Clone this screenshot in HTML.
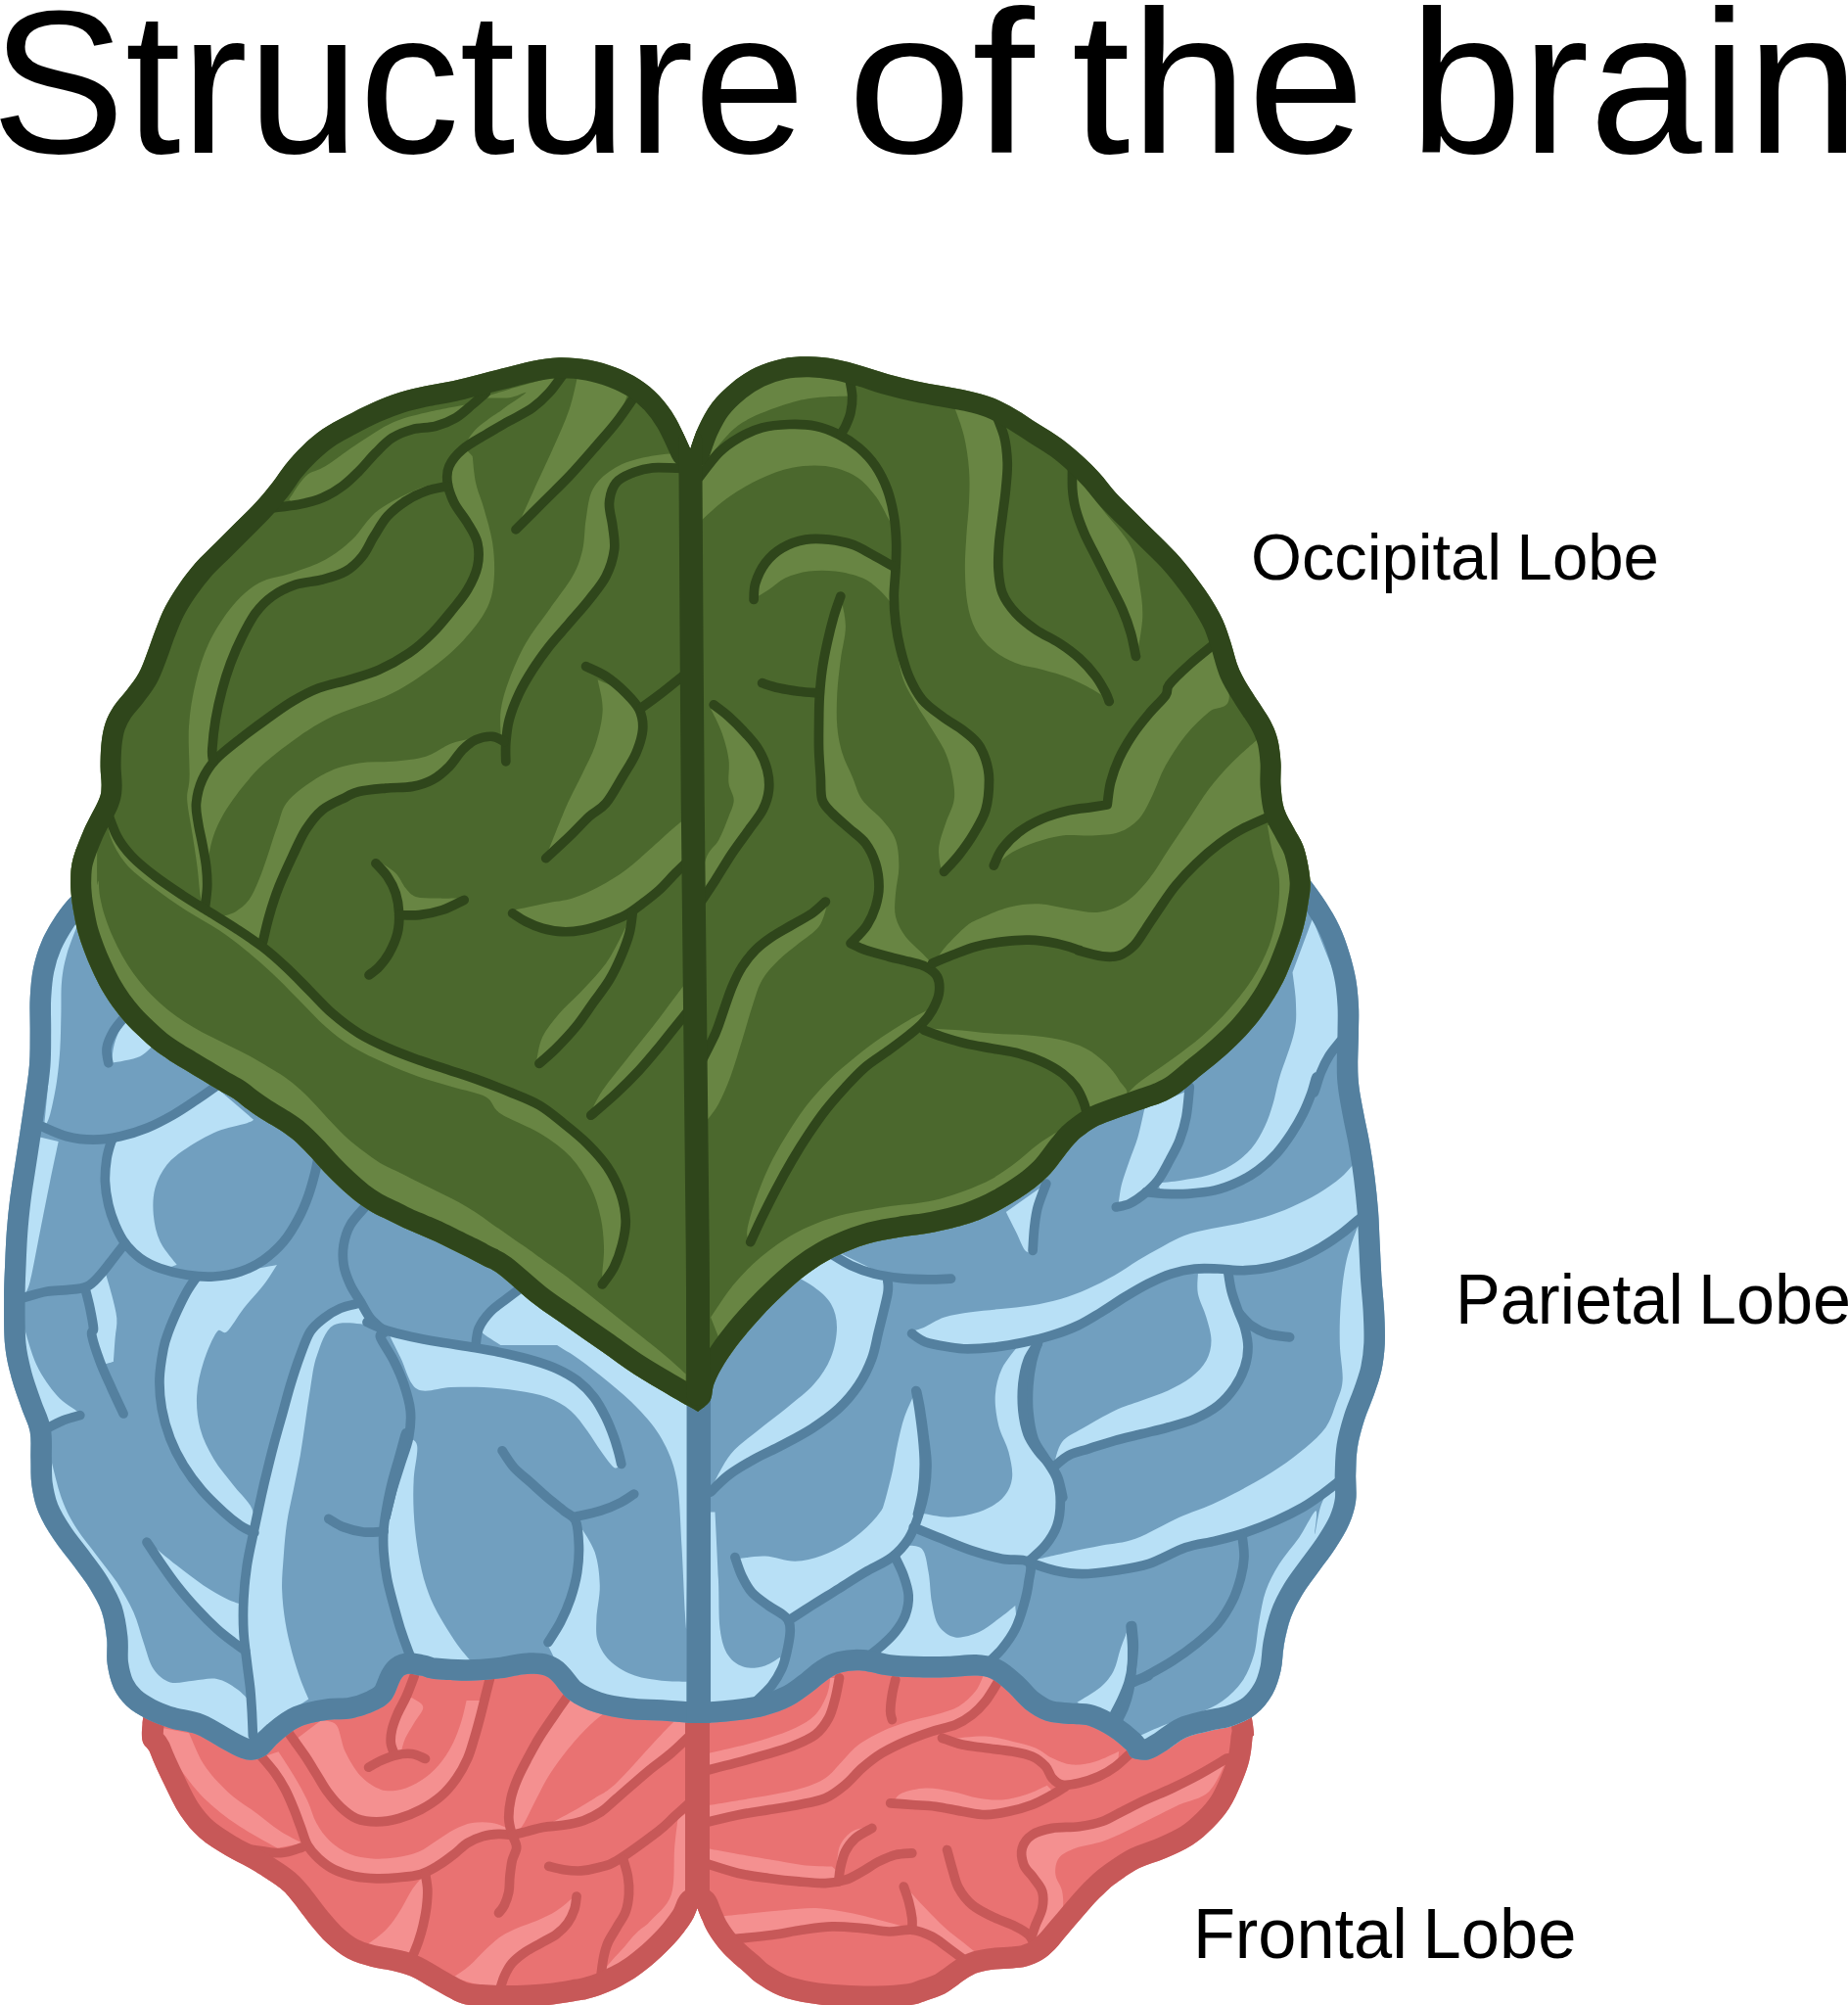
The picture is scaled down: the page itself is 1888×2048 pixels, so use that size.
<!DOCTYPE html>
<html><head><meta charset="utf-8"><title>Structure of the brain</title>
<style>
html,body{margin:0;padding:0;background:#fff;}
body{width:1888px;height:2048px;overflow:hidden;position:relative;font-family:"Liberation Sans",sans-serif;}
svg{position:absolute;left:0;top:0;display:block;}
text{font-family:"Liberation Sans",sans-serif;fill:#000;}
</style></head><body>
<svg width="1888" height="2048" viewBox="0 0 1888 2048">
<defs><path id="red" d="M170.0 1640.0C165.9 1660.3 148.2 1736.5 145.5 1761.7C142.8 1786.9 149.8 1780.6 153.6 1790.9C157.4 1801.2 163.1 1812.9 168.2 1823.4C173.3 1834.0 178.4 1845.3 184.4 1854.2C190.4 1863.1 196.3 1870.2 203.9 1877.0C211.5 1883.8 221.5 1889.7 229.9 1894.8C238.3 1899.9 246.3 1903.3 254.2 1907.8C262.1 1912.3 271.0 1918.0 277.0 1922.0C283.0 1926.0 286.3 1928.4 290.2 1932.1C294.1 1935.8 295.9 1938.4 300.5 1944.1C305.1 1949.8 311.8 1959.4 317.5 1966.2C323.2 1973.0 328.2 1979.3 334.5 1985.0C340.8 1990.7 347.6 1996.3 355.0 2000.3C362.4 2004.3 371.4 2006.7 378.9 2008.8C386.4 2010.9 393.2 2011.1 400.0 2012.7C406.8 2014.3 412.8 2015.6 419.5 2018.5C426.2 2021.4 433.9 2026.6 440.0 2030.0C446.1 2033.4 450.7 2036.2 456.0 2039.0C461.3 2041.8 466.3 2044.8 472.0 2046.5C477.7 2048.2 483.2 2048.4 490.0 2049.0C496.8 2049.6 504.7 2049.9 513.0 2050.0C521.3 2050.1 531.3 2049.9 540.0 2049.5C548.7 2049.1 556.7 2048.5 565.0 2047.5C573.3 2046.5 584.2 2044.5 590.0 2043.5C595.8 2042.5 595.5 2043.0 600.0 2041.8C604.5 2040.6 611.5 2038.4 617.3 2036.2C623.1 2034.0 628.8 2031.4 634.6 2028.4C640.4 2025.4 646.1 2022.0 651.9 2018.0C657.7 2014.0 664.2 2008.5 669.3 2004.2C674.4 1999.9 678.3 1996.0 682.3 1992.0C686.3 1988.0 690.2 1983.8 693.5 1979.9C696.8 1976.0 699.8 1972.0 702.2 1968.7C704.6 1965.4 706.1 1963.3 707.8 1960.0C709.5 1956.7 711.7 1950.8 712.5 1949.0C713.2 1950.8 715.2 1956.0 716.9 1960.0C718.6 1964.0 720.4 1968.7 722.9 1973.0C725.4 1977.3 728.4 1981.8 731.6 1986.0C734.8 1990.2 738.5 1994.5 742.0 1998.1C745.5 2001.7 749.4 2004.9 752.4 2007.6C755.4 2010.2 756.6 2011.1 760.0 2014.0C763.4 2016.9 766.5 2020.9 772.5 2025.0C778.5 2029.1 787.3 2035.0 796.3 2038.5C805.3 2042.0 816.1 2044.3 826.6 2046.1C837.1 2047.9 847.6 2048.8 859.0 2049.5C870.4 2050.2 883.1 2050.8 895.0 2050.5C906.9 2050.2 921.7 2049.3 930.5 2048.0C939.3 2046.7 942.0 2044.8 947.8 2042.9C953.6 2041.0 960.0 2038.9 965.1 2036.4C970.2 2033.9 974.1 2030.4 978.1 2027.7C982.1 2025.0 985.3 2022.3 988.9 2020.1C992.5 2017.9 995.0 2016.1 999.7 2014.7C1004.4 2013.3 1011.3 2012.2 1017.1 2011.5C1022.9 2010.8 1029.0 2011.0 1034.4 2010.4C1039.8 2009.9 1044.5 2009.7 1049.5 2008.2C1054.5 2006.8 1060.0 2004.6 1064.7 2001.7C1069.4 1998.8 1073.4 1995.2 1077.7 1990.9C1082.0 1986.6 1086.3 1980.8 1090.6 1975.8C1094.9 1970.8 1099.3 1965.6 1103.6 1960.6C1107.9 1955.5 1112.3 1950.2 1116.6 1945.5C1120.9 1940.8 1125.7 1936.1 1129.6 1932.5C1133.5 1928.9 1134.3 1927.8 1140.0 1923.8C1145.7 1919.8 1155.1 1912.6 1163.6 1908.3C1172.1 1904.0 1181.8 1902.0 1190.9 1898.0C1200.0 1894.0 1210.2 1889.5 1218.2 1884.4C1226.2 1879.3 1232.3 1873.7 1238.6 1867.4C1244.8 1861.2 1250.9 1854.3 1255.7 1846.9C1260.5 1839.5 1264.2 1831.0 1267.6 1823.0C1271.0 1815.0 1274.1 1807.2 1276.1 1799.2C1278.1 1791.2 1278.9 1782.1 1279.5 1775.3C1280.1 1768.5 1282.8 1780.8 1279.5 1758.3C1276.2 1735.8 1263.2 1659.7 1260.0 1640.0L170.0 1640.0Z"/><clipPath id="c_red"><use href="#red"/></clipPath></defs>
<use href="#red" fill="#e97272"/>
<g fill="#f49090" clip-path="url(#c_red)"><path d="M494.8 1737.0C494.0 1740.0 491.9 1748.8 490.2 1755.2C488.5 1761.6 486.6 1768.8 484.5 1775.6C482.4 1782.4 480.7 1789.3 477.7 1796.1C474.7 1802.9 470.9 1810.1 466.4 1816.5C461.9 1822.9 456.6 1829.4 450.5 1834.7C444.4 1840.0 437.2 1844.6 430.0 1848.4C422.8 1852.2 414.9 1855.4 407.3 1857.5C399.7 1859.6 391.7 1860.9 384.5 1860.9C377.3 1860.9 370.2 1860.0 364.1 1857.5C358.1 1855.0 353.1 1850.6 348.2 1846.1C343.3 1841.5 338.7 1835.9 334.5 1830.2C330.3 1824.5 327.0 1818.1 323.2 1812.0C319.4 1805.9 315.6 1799.5 311.8 1793.8C308.0 1788.1 302.4 1780.6 300.5 1777.9L327.7 1757.5C330.4 1758.2 339.4 1756.7 343.6 1762.0C347.8 1767.3 348.5 1780.6 352.7 1789.3C356.9 1798.0 362.5 1807.9 368.6 1814.3C374.7 1820.7 382.3 1825.6 389.1 1827.9C395.9 1830.2 402.7 1829.4 409.5 1827.9C416.3 1826.4 423.6 1823.0 430.0 1818.8C436.4 1814.6 442.9 1809.0 448.2 1802.9C453.5 1796.9 458.0 1789.7 461.8 1782.5C465.6 1775.3 468.4 1767.3 470.9 1759.7C473.4 1752.1 475.7 1740.8 476.6 1737.0L494.8 1737.0Z"/><path d="M267.5 1795.0C269.6 1797.5 276.0 1804.2 280.0 1809.7C284.0 1815.2 288.0 1821.5 291.4 1827.9C294.8 1834.4 297.9 1842.0 300.5 1848.4C303.1 1854.8 305.0 1860.5 307.3 1866.5C309.6 1872.5 311.1 1879.4 314.1 1884.7C317.1 1890.0 320.9 1894.2 325.5 1898.4C330.1 1902.6 335.3 1906.7 341.4 1909.7C347.4 1912.7 354.6 1915.0 361.8 1916.5C369.0 1918.0 376.9 1918.6 384.5 1918.8C392.1 1919.0 399.7 1918.5 407.3 1917.7C414.9 1917.0 423.2 1916.4 430.0 1914.3C436.8 1912.2 442.5 1908.6 448.2 1905.2C453.9 1901.8 459.2 1897.6 464.1 1893.8C469.0 1890.0 472.8 1885.5 477.7 1882.5C482.6 1879.5 488.3 1877.1 493.6 1875.6C498.9 1874.1 504.8 1873.7 509.5 1873.4C514.2 1873.1 519.9 1873.9 522.0 1874.0C521.4 1873.0 521.8 1869.7 518.6 1867.7C515.4 1865.7 508.8 1863.0 502.7 1862.0C496.6 1861.0 488.7 1860.9 482.3 1862.0C475.9 1863.1 470.2 1865.8 464.1 1868.8C458.0 1871.8 452.0 1876.4 445.9 1880.2C439.8 1884.0 434.5 1888.7 427.7 1891.5C420.9 1894.3 412.9 1896.0 405.0 1897.2C397.1 1898.4 387.9 1899.0 380.0 1898.4C372.1 1897.8 364.5 1896.8 357.3 1893.8C350.1 1890.8 342.5 1885.5 336.8 1880.2C331.1 1874.9 327.0 1868.8 323.2 1862.0C319.4 1855.2 317.9 1847.2 314.1 1839.3C310.3 1831.3 305.4 1822.6 300.5 1814.3C295.6 1806.0 287.2 1793.5 284.5 1789.3L267.5 1795.0Z"/><path d="M165.8 1765.1L193.1 1770.2C195.7 1775.6 201.9 1792.6 208.4 1802.6C214.9 1812.5 223.8 1822.0 232.3 1829.9C240.8 1837.9 250.4 1843.5 259.5 1850.3C268.6 1857.1 278.6 1865.4 286.8 1870.8C295.1 1876.2 305.3 1880.7 309.0 1882.7L283.4 1887.8C276.6 1883.8 255.0 1872.5 242.5 1864.0C230.0 1855.5 218.6 1846.9 208.4 1836.7C198.2 1826.5 188.5 1813.4 181.1 1802.6C173.7 1791.8 166.6 1778.2 164.1 1771.9C161.6 1765.7 165.5 1766.2 165.8 1765.1Z"/><path d="M431.1 1917.7C429.4 1919.8 424.3 1925.1 420.9 1930.2C417.5 1935.3 414.3 1942.5 410.7 1948.4C407.1 1954.3 403.1 1960.7 399.3 1965.4C395.5 1970.1 392.0 1973.4 388.0 1976.8C384.0 1980.2 377.6 1984.4 375.5 1985.9L416.4 1993.8C417.5 1993.8 421.3 1995.7 423.2 1993.8C425.1 1991.9 426.2 1987.0 427.7 1982.5C429.2 1978.0 431.0 1972.2 432.3 1966.5C433.6 1960.8 434.9 1954.5 435.7 1948.4C436.4 1942.4 437.6 1935.3 436.8 1930.2C436.0 1925.1 432.1 1919.8 431.1 1917.7Z"/><path d="M527.7 1873.4C529.2 1871.1 533.4 1865.8 536.8 1859.7C540.2 1853.6 544.0 1845.0 548.2 1837.0C552.4 1829.0 556.5 1820.3 561.8 1812.0C567.1 1803.7 573.9 1794.6 580.0 1787.0C586.1 1779.4 592.1 1772.6 598.2 1766.5C604.3 1760.4 610.7 1755.1 616.4 1750.6C622.1 1746.1 629.6 1741.2 632.3 1739.3L580.0 1732.5C577.4 1736.3 569.0 1748.0 564.1 1755.2C559.2 1762.4 554.7 1768.8 550.5 1775.6C546.3 1782.4 542.7 1789.3 539.1 1796.1C535.5 1802.9 531.8 1809.7 528.9 1816.5C526.0 1823.3 523.5 1830.2 522.0 1837.0C520.5 1843.8 518.8 1851.4 519.8 1857.5C520.8 1863.6 526.4 1870.8 527.7 1873.4Z"/><path d="M564.1 1861.5C567.5 1859.7 577.3 1854.7 584.5 1850.6C591.7 1846.5 599.7 1841.9 607.3 1837.0C614.9 1832.1 618.6 1831.9 630.0 1821.1C641.4 1810.2 662.2 1785.8 675.5 1771.9C688.8 1758.0 703.8 1743.5 709.5 1737.8L709.5 1768.5C705.5 1772.2 693.7 1783.9 685.7 1790.7C677.8 1797.5 671.1 1801.7 661.8 1809.4C652.5 1817.1 638.0 1830.1 630.0 1837.0C622.0 1843.9 619.8 1846.8 614.1 1850.6C608.4 1854.4 602.3 1857.4 595.9 1859.7C589.5 1862.0 580.8 1864.0 575.5 1864.3C570.2 1864.6 566.0 1862.0 564.1 1861.5Z"/><path d="M585.7 1938.1C582.9 1940.4 574.9 1947.8 568.6 1951.8C562.4 1955.8 554.6 1959.2 548.2 1962.0C541.8 1964.8 536.1 1966.1 530.0 1968.8C523.9 1971.5 517.5 1974.1 511.8 1977.9C506.1 1981.7 501.2 1986.6 495.9 1991.5C490.6 1996.4 485.5 2002.8 480.0 2007.5C474.5 2012.2 465.8 2017.9 463.0 2020.0L506.1 2032.5C507.6 2030.2 512.4 2023.3 515.2 2018.8C518.1 2014.2 519.6 2009.4 523.2 2005.2C526.8 2001.0 531.9 1997.2 536.8 1993.8C541.7 1990.4 547.4 1987.7 552.7 1984.7C558.0 1981.7 564.1 1979.0 568.6 1975.6C573.1 1972.2 577.0 1968.5 580.0 1964.3C583.0 1960.1 585.8 1955.0 586.8 1950.6C587.8 1946.2 585.9 1940.2 585.7 1938.1Z"/><path d="M422.0 1734.7C423.7 1736.2 432.1 1739.6 432.3 1743.8C432.5 1748.0 426.2 1754.4 423.2 1759.7C420.2 1765.0 416.4 1770.5 414.1 1775.6C411.8 1780.7 410.3 1787.9 409.5 1790.4C408.4 1790.5 404.4 1792.8 402.7 1791.1C401.0 1789.4 399.7 1784.3 399.3 1780.2C398.9 1776.1 399.4 1771.4 400.5 1766.5C401.6 1761.6 403.7 1756.3 406.1 1750.6C408.6 1744.9 413.7 1735.5 415.2 1732.5L422.0 1734.7Z"/><path d="M617.0 2012.0C618.5 2010.3 622.8 2005.2 626.0 2001.6C629.2 1998.0 633.2 1993.9 636.4 1990.3C639.6 1986.7 642.1 1983.1 645.0 1979.9C647.9 1976.7 650.5 1974.2 653.7 1971.3C656.9 1968.4 658.8 1968.5 664.1 1962.6C669.4 1956.6 681.5 1948.1 685.7 1935.6C689.9 1923.1 688.0 1900.9 689.1 1887.8C690.2 1874.7 692.0 1862.3 692.6 1857.2L705.0 1850.0L705.0 1930.0C702.8 1936.7 696.2 1960.7 692.0 1970.0C687.8 1979.3 684.3 1981.3 680.0 1986.0C675.7 1990.7 671.3 1994.0 666.0 1998.0C660.7 2002.0 654.8 2006.3 648.0 2010.0C641.2 2013.7 628.8 2018.3 625.0 2020.0L617.0 2012.0Z"/><path d="M720.5 1791.7C726.2 1790.4 743.7 1786.5 754.5 1783.8C765.3 1781.1 775.5 1778.4 785.2 1775.3C794.9 1772.2 804.5 1769.1 812.5 1765.1C820.5 1761.1 827.6 1757.2 833.0 1751.5C838.4 1745.8 842.4 1737.2 844.9 1731.0C847.4 1724.8 847.7 1716.8 848.3 1714.0L857.5 1714.0C856.8 1717.4 855.2 1727.6 853.4 1734.4C851.6 1741.2 850.0 1748.7 846.6 1754.9C843.2 1761.2 839.2 1767.1 833.0 1771.9C826.8 1776.7 817.6 1780.4 809.1 1783.8C800.6 1787.2 791.5 1789.6 781.8 1792.4C772.1 1795.2 761.3 1798.2 751.1 1800.9C740.9 1803.6 725.6 1807.4 720.5 1808.7L720.5 1791.7Z"/><path d="M720.5 1844.5C726.8 1843.5 746.6 1840.3 758.0 1838.4C769.4 1836.5 778.4 1835.3 788.6 1833.3C798.8 1831.3 810.2 1829.3 819.3 1826.5C828.4 1823.7 836.4 1820.8 843.2 1816.2C850.0 1811.7 854.5 1804.9 860.2 1799.2C865.9 1793.5 870.5 1787.2 877.3 1782.1C884.1 1777.0 892.6 1772.5 901.1 1768.5C909.6 1764.5 919.3 1761.1 928.4 1758.3C937.5 1755.5 947.2 1754.1 955.7 1751.5C964.2 1748.9 972.7 1746.9 979.5 1742.9C986.3 1738.9 992.3 1733.0 996.6 1727.6C1000.9 1722.2 1003.7 1713.3 1005.1 1710.5L1018.8 1719.1C1016.8 1722.2 1011.1 1732.4 1006.8 1737.8C1002.5 1743.2 998.3 1747.5 993.2 1751.5C988.1 1755.5 982.9 1758.9 976.1 1761.7C969.3 1764.5 960.8 1765.7 952.3 1768.5C943.8 1771.3 933.5 1775.0 925.0 1778.7C916.5 1782.4 908.5 1786.2 901.1 1790.7C893.7 1795.2 887.0 1800.6 880.7 1806.0C874.5 1811.4 869.9 1817.9 863.6 1823.0C857.4 1828.1 851.2 1833.3 843.2 1836.7C835.2 1840.1 825.6 1841.5 815.9 1843.5C806.2 1845.5 795.4 1846.9 785.2 1848.6C775.0 1850.3 765.3 1851.5 754.5 1853.7C743.7 1855.9 726.2 1860.3 720.5 1861.6L720.5 1844.5Z"/><path d="M972.7 1776.0C978.4 1775.6 996.6 1773.1 1006.8 1773.6C1017.0 1774.0 1025.6 1776.7 1034.1 1778.7C1042.6 1780.7 1051.2 1782.7 1058.0 1785.5C1064.8 1788.3 1068.8 1793.0 1075.0 1795.8C1081.2 1798.6 1088.1 1802.0 1095.5 1802.6C1102.9 1803.2 1111.3 1801.5 1119.3 1799.2C1127.2 1796.9 1139.2 1790.7 1143.2 1789.0C1142.6 1791.5 1143.2 1800.0 1139.8 1804.3C1136.4 1808.5 1129.0 1811.7 1122.7 1814.5C1116.5 1817.3 1108.5 1819.9 1102.3 1821.3C1096.0 1822.7 1089.8 1823.8 1085.2 1823.0C1080.7 1822.2 1077.8 1819.3 1075.0 1816.2C1072.2 1813.1 1071.6 1808.0 1068.2 1804.3C1064.8 1800.6 1060.2 1796.6 1054.5 1794.1C1048.8 1791.5 1042.0 1790.4 1034.1 1789.0C1026.1 1787.6 1015.3 1786.7 1006.8 1785.5C998.3 1784.3 988.7 1783.7 983.0 1782.1C977.3 1780.5 974.4 1777.0 972.7 1776.0Z"/><path d="M913.1 1840.1C914.5 1838.7 916.2 1833.9 921.6 1831.6C927.0 1829.3 937.0 1826.8 945.5 1826.5C954.0 1826.2 963.6 1828.2 972.7 1829.9C981.8 1831.6 991.5 1835.3 1000.0 1836.7C1008.5 1838.1 1015.9 1839.0 1023.9 1838.4C1031.8 1837.8 1040.0 1835.8 1047.7 1833.3C1055.4 1830.8 1066.2 1825.3 1069.9 1823.7C1070.8 1825.3 1077.6 1830.0 1075.0 1833.3C1072.4 1836.6 1061.9 1840.7 1054.5 1843.5C1047.1 1846.3 1038.7 1848.6 1030.7 1850.3C1022.8 1852.0 1014.8 1853.7 1006.8 1853.7C998.8 1853.7 991.5 1851.7 983.0 1850.3C974.5 1848.9 964.2 1846.3 955.7 1845.2C947.2 1844.1 938.9 1844.3 931.8 1843.5C924.7 1842.7 916.2 1840.7 913.1 1840.1Z"/><path d="M720.5 1887.8C726.8 1888.9 746.6 1892.6 758.0 1894.6C769.4 1896.6 778.4 1898.1 788.6 1899.8C798.8 1901.5 809.1 1903.8 819.3 1904.9C829.5 1906.0 844.9 1906.3 850.0 1906.6L863.6 1919.2C860.2 1919.9 851.2 1923.1 843.2 1923.6C835.2 1924.0 825.6 1922.8 815.9 1921.9C806.2 1921.1 795.4 1919.9 785.2 1918.5C775.0 1917.1 765.3 1916.0 754.5 1913.4C743.7 1910.9 726.2 1904.9 720.5 1903.2L720.5 1887.8Z"/><path d="M887.5 1865.7C884.7 1866.5 875.3 1867.7 870.5 1870.8C865.7 1873.9 861.1 1879.3 858.5 1884.4C855.9 1889.5 855.7 1898.7 855.1 1901.5C856.5 1899.8 860.5 1895.2 863.6 1891.2C866.7 1887.2 869.9 1881.8 873.9 1877.6C877.9 1873.3 885.2 1867.7 887.5 1865.7Z"/><path d="M926.7 1928.7C929.8 1932.1 939.0 1942.4 945.5 1949.2C952.0 1956.0 959.6 1963.9 965.9 1969.6C972.1 1975.3 977.3 1978.8 983.0 1983.3C988.7 1987.8 997.2 1994.6 1000.0 1996.9L989.8 2005.4C986.4 2002.9 975.5 1994.6 969.3 1990.1C963.0 1985.6 958.5 1981.3 952.3 1978.2C946.0 1975.1 935.2 1974.4 931.8 1971.3C928.4 1968.2 932.4 1964.2 931.8 1959.4C931.2 1954.6 929.2 1947.5 928.4 1942.4C927.5 1937.3 927.0 1931.0 926.7 1928.7Z"/><path d="M734.1 1957.7C739.8 1957.1 756.8 1955.4 768.2 1954.3C779.6 1953.2 790.9 1951.8 802.3 1950.9C813.7 1950.1 825.0 1948.6 836.4 1949.2C847.8 1949.8 859.1 1952.0 870.5 1954.3C881.9 1956.6 894.6 1960.2 904.5 1962.8C914.4 1965.3 925.8 1968.5 930.1 1969.6C926.4 1970.2 916.2 1973.0 908.0 1973.0C899.8 1973.0 890.4 1970.4 880.7 1969.6C871.0 1968.8 860.2 1967.6 850.0 1967.9C839.8 1968.2 829.5 1969.9 819.3 1971.3C809.1 1972.7 800.0 1975.0 788.6 1976.5C777.2 1978.0 757.4 1979.8 751.1 1980.5L734.1 1957.7Z"/><path d="M1254.0 1795.8C1250.9 1801.5 1243.5 1822.0 1235.2 1829.9C1227.0 1837.9 1214.2 1839.0 1204.5 1843.5C1194.8 1848.0 1186.4 1852.5 1177.3 1857.1C1168.2 1861.6 1158.5 1866.8 1150.0 1870.8C1141.5 1874.8 1134.6 1878.2 1126.1 1881.0C1117.6 1883.8 1106.3 1885.0 1098.9 1887.8C1091.5 1890.6 1085.2 1893.5 1081.8 1898.0C1078.4 1902.5 1077.8 1909.4 1078.4 1915.1C1079.0 1920.8 1084.1 1925.8 1085.2 1932.1C1086.3 1938.3 1086.9 1946.3 1085.2 1952.6C1083.5 1958.8 1078.7 1964.2 1075.0 1969.6C1071.3 1975.0 1065.1 1982.4 1063.1 1985.0C1061.7 1983.6 1055.3 1979.6 1054.5 1976.5C1053.7 1973.4 1056.3 1970.8 1058.0 1966.2C1059.7 1961.7 1063.7 1954.9 1064.8 1949.2C1065.9 1943.5 1066.2 1937.2 1064.8 1932.1C1063.4 1927.0 1059.3 1923.0 1056.2 1918.5C1053.1 1914.0 1048.0 1910.0 1046.0 1904.9C1044.0 1899.8 1042.9 1892.9 1044.3 1887.8C1045.7 1882.7 1049.4 1877.6 1054.5 1874.2C1059.6 1870.8 1067.0 1868.8 1075.0 1867.4C1083.0 1866.0 1093.8 1866.9 1102.3 1865.7C1110.8 1864.5 1118.7 1863.1 1126.1 1860.5C1133.5 1857.9 1139.2 1854.0 1146.6 1850.3C1154.0 1846.6 1162.0 1842.4 1170.5 1838.4C1179.0 1834.4 1188.6 1830.8 1197.7 1826.5C1206.8 1822.2 1215.6 1817.9 1225.0 1812.8C1234.4 1807.7 1249.2 1798.6 1254.0 1795.8Z"/></g>
<g fill="none" stroke="#c75858" stroke-width="9.7" stroke-linecap="round" stroke-linejoin="round" clip-path="url(#c_red)"><path d="M500.5 1714.3C499.7 1717.3 497.6 1725.7 495.9 1732.5C494.2 1739.3 492.1 1748.0 490.2 1755.2C488.3 1762.4 486.6 1768.8 484.5 1775.6C482.4 1782.4 480.7 1789.3 477.7 1796.1C474.7 1802.9 470.9 1810.1 466.4 1816.5C461.9 1822.9 456.6 1829.4 450.5 1834.7C444.4 1840.0 437.2 1844.6 430.0 1848.4C422.8 1852.2 414.9 1855.4 407.3 1857.5C399.7 1859.6 391.7 1860.9 384.5 1860.9C377.3 1860.9 370.2 1860.0 364.1 1857.5C358.1 1855.0 353.1 1850.6 348.2 1846.1C343.3 1841.5 338.7 1835.9 334.5 1830.2C330.3 1824.5 327.0 1818.1 323.2 1812.0C319.4 1805.9 315.6 1799.5 311.8 1793.8C308.0 1788.1 304.3 1783.2 300.5 1777.9C296.7 1772.6 291.0 1764.7 289.1 1762.0"/><path d="M261.8 1788.1C264.8 1791.7 275.1 1803.1 280.0 1809.7C284.9 1816.3 288.0 1821.5 291.4 1827.9C294.8 1834.4 297.9 1842.0 300.5 1848.4C303.1 1854.8 305.0 1860.5 307.3 1866.5C309.6 1872.5 311.1 1879.4 314.1 1884.7C317.1 1890.0 320.9 1894.2 325.5 1898.4C330.1 1902.6 335.3 1906.7 341.4 1909.7C347.4 1912.7 354.6 1915.0 361.8 1916.5C369.0 1918.0 376.9 1918.6 384.5 1918.8C392.1 1919.0 399.7 1918.5 407.3 1917.7C414.9 1917.0 423.2 1916.4 430.0 1914.3C436.8 1912.2 442.5 1908.6 448.2 1905.2C453.9 1901.8 459.2 1897.6 464.1 1893.8C469.0 1890.0 472.8 1885.5 477.7 1882.5C482.6 1879.5 488.3 1877.1 493.6 1875.6C498.9 1874.1 504.6 1873.6 509.5 1873.4C514.4 1873.2 520.9 1874.3 523.2 1874.5"/><path d="M257.3 1889.3C262.2 1889.9 278.3 1893.1 286.8 1892.7C295.3 1892.3 304.8 1888.0 308.4 1887.0"/><path d="M434.5 1914.3C434.9 1917.0 436.6 1924.5 436.8 1930.2C437.0 1935.9 436.4 1942.4 435.7 1948.4C434.9 1954.5 433.6 1960.8 432.3 1966.5C431.0 1972.2 429.4 1977.4 427.7 1982.5C426.0 1987.6 422.9 1994.8 422.0 1997.2"/><path d="M523.2 1874.5C522.6 1871.7 520.0 1863.8 519.8 1857.5C519.6 1851.2 520.5 1843.8 522.0 1837.0C523.5 1830.2 526.0 1823.3 528.9 1816.5C531.8 1809.7 535.5 1802.9 539.1 1796.1C542.7 1789.3 546.3 1782.4 550.5 1775.6C554.7 1768.8 559.2 1762.4 564.1 1755.2C569.0 1748.0 575.1 1739.3 580.0 1732.5C584.9 1725.7 591.3 1717.3 593.6 1714.3"/><path d="M523.2 1874.5C525.5 1873.9 531.5 1872.4 536.8 1871.1C542.1 1869.8 548.5 1867.6 555.0 1866.5C561.5 1865.4 568.7 1865.4 575.5 1864.3C582.3 1863.2 589.5 1862.0 595.9 1859.7C602.3 1857.4 608.4 1854.4 614.1 1850.6C619.8 1846.8 622.0 1843.9 630.0 1837.0C638.0 1830.1 652.5 1817.1 661.8 1809.4C671.1 1801.7 677.8 1797.5 685.7 1790.7C693.7 1783.9 705.5 1772.2 709.5 1768.5"/><path d="M523.2 1874.5C524.0 1876.6 527.7 1882.7 527.7 1887.0C527.7 1891.3 524.3 1895.7 523.2 1900.6C522.1 1905.5 521.5 1911.2 520.9 1916.5C520.3 1921.8 520.8 1927.6 519.8 1932.5C518.8 1937.4 516.9 1942.5 515.2 1946.1C513.5 1949.7 510.4 1952.7 509.5 1954.0"/><path d="M560.7 1906.3C563.2 1906.9 570.0 1908.9 575.5 1909.7C581.0 1910.5 587.6 1911.3 593.6 1910.9C599.6 1910.5 605.7 1909.2 611.8 1907.5C617.9 1905.8 620.0 1906.7 630.0 1900.6C640.0 1894.5 662.1 1878.3 672.0 1870.8C681.9 1863.3 682.9 1861.1 689.1 1855.4C695.4 1849.7 706.1 1839.8 709.5 1836.7"/><path d="M589.1 1937.0C588.7 1939.3 588.3 1946.0 586.8 1950.6C585.3 1955.1 583.0 1960.1 580.0 1964.3C577.0 1968.5 573.1 1972.2 568.6 1975.6C564.1 1979.0 558.0 1981.7 552.7 1984.7C547.4 1987.7 541.7 1990.4 536.8 1993.8C531.9 1997.2 526.8 2001.0 523.2 2005.2C519.6 2009.4 517.4 2013.9 515.2 2018.8C513.0 2023.7 510.9 2032.0 510.0 2034.7"/><path d="M636.8 1899.5C637.6 1902.3 640.4 1910.6 641.4 1916.5C642.4 1922.4 642.9 1928.6 642.5 1934.7C642.1 1940.8 641.2 1947.2 639.1 1952.9C637.0 1958.6 633.0 1963.5 630.0 1968.8C627.0 1974.1 623.2 1979.4 620.9 1984.7C618.6 1990.0 617.6 1994.5 616.4 2000.6C615.2 2006.7 614.1 2017.7 613.6 2021.1"/><path d="M423.2 1712.0C421.9 1715.4 418.0 1726.1 415.2 1732.5C412.4 1738.9 408.6 1744.9 406.1 1750.6C403.7 1756.3 401.6 1761.6 400.5 1766.5C399.4 1771.4 398.9 1776.1 399.3 1780.2C399.7 1784.3 402.1 1789.3 402.7 1791.1"/><path d="M376.6 1805.2C378.7 1804.1 384.4 1800.5 389.1 1798.4C393.8 1796.3 399.7 1793.9 405.0 1792.7C410.3 1791.5 416.0 1790.9 420.9 1791.5C425.8 1792.1 432.2 1795.7 434.5 1796.5"/><path d="M914.8 1715.7C914.2 1718.2 912.2 1725.6 911.4 1731.0C910.5 1736.4 909.7 1743.7 909.7 1748.0C909.7 1752.3 911.1 1755.2 911.4 1756.6"/><path d="M720.5 1808.7C725.6 1807.4 740.9 1803.6 751.1 1800.9C761.3 1798.2 772.1 1795.2 781.8 1792.4C791.5 1789.6 800.6 1787.2 809.1 1783.8C817.6 1780.4 826.8 1776.7 833.0 1771.9C839.2 1767.1 843.2 1761.2 846.6 1754.9C850.0 1748.7 851.6 1741.2 853.4 1734.4C855.2 1727.6 856.8 1717.4 857.5 1714.0"/><path d="M720.5 1861.6C726.2 1860.3 743.7 1855.9 754.5 1853.7C765.3 1851.5 775.0 1850.3 785.2 1848.6C795.4 1846.9 806.2 1845.5 815.9 1843.5C825.6 1841.5 835.2 1840.1 843.2 1836.7C851.2 1833.3 857.4 1828.1 863.6 1823.0C869.9 1817.9 874.5 1811.4 880.7 1806.0C887.0 1800.6 893.7 1795.2 901.1 1790.7C908.5 1786.2 916.5 1782.4 925.0 1778.7C933.5 1775.0 943.8 1771.3 952.3 1768.5C960.8 1765.7 969.3 1764.5 976.1 1761.7C982.9 1758.9 988.1 1755.5 993.2 1751.5C998.3 1747.5 1002.5 1743.2 1006.8 1737.8C1011.1 1732.4 1016.8 1722.2 1018.8 1719.1"/><path d="M962.5 1775.3C965.9 1776.4 975.6 1780.4 983.0 1782.1C990.4 1783.8 998.3 1784.3 1006.8 1785.5C1015.3 1786.7 1026.1 1787.6 1034.1 1789.0C1042.0 1790.4 1048.8 1791.5 1054.5 1794.1C1060.2 1796.6 1064.8 1800.6 1068.2 1804.3C1071.6 1808.0 1072.2 1813.1 1075.0 1816.2C1077.8 1819.3 1080.7 1822.2 1085.2 1823.0C1089.8 1823.8 1096.0 1822.7 1102.3 1821.3C1108.5 1819.9 1116.5 1817.3 1122.7 1814.5C1129.0 1811.7 1134.1 1808.5 1139.8 1804.3C1145.5 1800.0 1154.0 1791.5 1156.8 1789.0"/><path d="M909.7 1841.8C913.4 1842.1 924.1 1842.9 931.8 1843.5C939.5 1844.1 947.2 1844.1 955.7 1845.2C964.2 1846.3 974.5 1848.9 983.0 1850.3C991.5 1851.7 998.8 1853.7 1006.8 1853.7C1014.8 1853.7 1022.8 1852.0 1030.7 1850.3C1038.7 1848.6 1047.1 1846.3 1054.5 1843.5C1061.9 1840.7 1069.3 1836.4 1075.0 1833.3C1080.7 1830.2 1086.3 1826.2 1088.6 1824.8"/><path d="M720.5 1903.2C726.2 1904.9 743.7 1910.9 754.5 1913.4C765.3 1916.0 775.0 1917.1 785.2 1918.5C795.4 1919.9 806.2 1921.1 815.9 1921.9C825.6 1922.8 835.2 1923.9 843.2 1923.6C851.2 1923.3 857.4 1922.2 863.6 1920.2C869.9 1918.2 875.0 1914.8 880.7 1911.7C886.4 1908.6 892.0 1904.3 897.7 1901.5C903.4 1898.7 909.1 1896.0 914.8 1894.6C920.5 1893.2 929.0 1893.2 931.8 1892.9"/><path d="M890.9 1867.4C888.1 1869.1 878.4 1873.6 873.9 1877.6C869.4 1881.6 866.2 1886.1 863.6 1891.2C861.0 1896.3 859.6 1903.2 858.5 1908.3C857.4 1913.4 857.1 1919.6 856.8 1921.9"/><path d="M923.3 1927.0C924.1 1929.6 927.0 1937.0 928.4 1942.4C929.8 1947.8 931.2 1954.6 931.8 1959.4C932.4 1964.2 931.8 1969.3 931.8 1971.3"/><path d="M751.1 1980.5C757.4 1979.8 777.2 1978.0 788.6 1976.5C800.0 1975.0 809.1 1972.7 819.3 1971.3C829.5 1969.9 839.8 1968.2 850.0 1967.9C860.2 1967.6 871.0 1968.8 880.7 1969.6C890.4 1970.4 899.5 1972.7 908.0 1973.0C916.5 1973.3 924.4 1970.4 931.8 1971.3C939.2 1972.2 946.0 1975.1 952.3 1978.2C958.5 1981.3 963.0 1985.6 969.3 1990.1C975.5 1994.6 986.4 2002.9 989.8 2005.4"/><path d="M967.6 1889.5C968.5 1892.6 970.7 1901.8 972.7 1908.3C974.7 1914.8 976.1 1922.5 979.5 1928.7C982.9 1935.0 987.5 1941.0 993.2 1945.8C998.9 1950.6 1006.8 1954.3 1013.6 1957.7C1020.4 1961.1 1027.8 1963.1 1034.1 1966.2C1040.3 1969.3 1046.8 1972.0 1051.1 1976.5C1055.4 1981.0 1058.3 1990.7 1059.7 1993.5"/><path d="M1254.0 1795.8C1249.2 1798.6 1234.4 1807.7 1225.0 1812.8C1215.6 1817.9 1206.8 1822.2 1197.7 1826.5C1188.6 1830.8 1179.0 1834.4 1170.5 1838.4C1162.0 1842.4 1154.0 1846.6 1146.6 1850.3C1139.2 1854.0 1133.5 1857.9 1126.1 1860.5C1118.7 1863.1 1110.8 1864.5 1102.3 1865.7C1093.8 1866.9 1083.0 1866.0 1075.0 1867.4C1067.0 1868.8 1059.6 1870.8 1054.5 1874.2C1049.4 1877.6 1045.7 1882.7 1044.3 1887.8C1042.9 1892.9 1044.0 1899.8 1046.0 1904.9C1048.0 1910.0 1053.1 1914.0 1056.2 1918.5C1059.3 1923.0 1063.4 1927.0 1064.8 1932.1C1066.2 1937.2 1065.9 1943.5 1064.8 1949.2C1063.7 1954.9 1059.7 1961.7 1058.0 1966.2C1056.3 1970.8 1055.1 1974.8 1054.5 1976.5"/></g>
<use href="#red" fill="none" stroke="#c75858" stroke-width="44.0" stroke-linejoin="round" clip-path="url(#c_red)"/>
<path d="M712.5 1740.0L712.5 1960.0" fill="none" stroke="#c75858" stroke-width="25" clip-path="url(#c_red)"/>
<defs><path id="blue" d="M250.0 880.0C227.1 881.1 138.8 883.1 112.5 886.4C86.2 889.7 98.5 895.2 92.0 900.0C85.5 904.8 79.0 909.6 73.3 915.3C67.6 921.0 63.1 926.4 58.0 934.1C52.9 941.8 46.6 952.3 42.6 961.4C38.6 970.5 36.1 979.0 34.1 988.6C32.1 998.2 31.3 1008.5 30.7 1019.3C30.1 1030.1 30.8 1042.0 30.7 1053.4C30.6 1064.8 30.9 1076.1 30.0 1087.5C29.1 1098.9 27.2 1110.2 25.6 1121.6C24.0 1133.0 22.2 1144.3 20.5 1155.7C18.8 1167.1 17.0 1178.4 15.3 1189.8C13.6 1201.2 11.6 1212.5 10.2 1223.9C8.8 1235.3 7.6 1246.7 6.8 1258.0C6.0 1269.3 5.5 1280.7 5.1 1292.0C4.6 1303.3 4.1 1312.4 4.1 1326.1C4.1 1339.8 3.8 1360.4 5.1 1374.1C6.4 1387.8 9.1 1397.4 11.9 1408.2C14.8 1419.0 19.1 1429.8 22.2 1438.9C25.3 1448.0 29.2 1454.2 30.7 1462.7C32.2 1471.2 31.1 1480.9 31.4 1490.0C31.7 1499.1 31.1 1508.2 32.4 1517.3C33.7 1526.4 35.5 1535.4 39.2 1544.5C42.9 1553.6 48.5 1562.7 54.5 1571.8C60.5 1580.9 68.8 1590.6 75.0 1599.1C81.2 1607.6 87.2 1615.0 92.0 1623.0C96.8 1631.0 101.2 1638.3 104.0 1646.8C106.8 1655.3 108.1 1665.2 109.1 1674.1C110.0 1683.0 108.5 1691.6 109.7 1700.0C110.9 1708.4 113.0 1717.4 116.2 1724.4C119.5 1731.4 123.8 1737.1 129.2 1742.2C134.6 1747.3 141.4 1751.4 148.7 1755.2C156.0 1759.0 164.4 1762.2 173.1 1764.9C181.8 1767.6 191.7 1767.9 200.6 1771.4C209.5 1774.9 219.0 1781.9 226.6 1786.0C234.2 1790.1 240.7 1793.9 246.1 1795.8C251.5 1797.7 254.8 1798.0 259.1 1797.4C263.4 1796.9 267.5 1795.8 272.1 1792.5C276.7 1789.2 280.8 1782.8 286.7 1777.9C292.6 1773.0 299.7 1766.8 307.8 1763.3C315.9 1759.8 326.8 1758.1 335.4 1756.8C344.0 1755.5 351.6 1756.8 359.7 1755.2C367.8 1753.6 377.4 1750.3 384.1 1747.1C390.8 1743.8 395.3 1741.6 400.0 1735.7C404.7 1729.8 407.6 1715.6 412.5 1711.6C417.4 1707.6 424.4 1711.0 429.5 1711.6C434.6 1712.2 435.2 1714.2 443.2 1715.0C451.2 1715.8 465.9 1716.8 477.3 1716.7C488.7 1716.6 501.2 1715.4 511.4 1714.3C521.6 1713.2 530.5 1710.1 538.6 1709.9C546.7 1709.7 553.0 1709.0 560.0 1713.3C567.0 1717.6 572.5 1729.5 580.5 1735.5C588.5 1741.5 597.5 1745.7 607.7 1749.1C617.9 1752.5 630.4 1754.5 641.8 1755.9C653.2 1757.3 664.0 1756.9 675.9 1757.6C687.8 1758.3 700.9 1760.0 713.4 1760.0C725.9 1760.0 739.5 1758.8 750.9 1757.6C762.3 1756.3 771.9 1755.0 781.6 1752.5C791.3 1750.0 801.0 1746.3 808.9 1742.3C816.8 1738.3 823.0 1733.1 829.3 1728.6C835.5 1724.0 841.3 1718.4 846.4 1715.0C851.5 1711.6 854.3 1709.6 860.0 1708.2C865.7 1706.8 872.5 1705.9 880.5 1706.5C888.5 1707.1 898.6 1710.5 907.7 1711.6C916.8 1712.7 924.8 1713.0 935.0 1713.3C945.2 1713.6 958.9 1713.6 969.1 1713.3C979.3 1713.0 989.0 1711.3 996.4 1711.6C1003.8 1711.9 1007.7 1712.2 1013.4 1715.0C1019.1 1717.8 1024.8 1723.5 1030.5 1728.6C1036.2 1733.7 1041.2 1740.9 1047.5 1745.7C1053.8 1750.5 1060.6 1755.0 1068.0 1757.6C1075.4 1760.1 1084.4 1760.2 1091.8 1761.0C1099.2 1761.8 1105.5 1760.7 1112.3 1762.7C1119.1 1764.7 1126.5 1769.0 1132.7 1773.0C1139.0 1777.0 1145.8 1782.8 1149.8 1786.6C1153.8 1790.3 1152.8 1793.7 1156.8 1795.5C1160.8 1797.3 1168.2 1798.4 1173.9 1797.2C1179.6 1796.0 1184.7 1792.3 1190.9 1788.6C1197.2 1784.9 1204.0 1778.4 1211.4 1775.0C1218.8 1771.6 1227.2 1770.2 1235.2 1768.2C1243.2 1766.2 1251.1 1765.9 1259.1 1763.1C1267.1 1760.2 1276.2 1756.5 1283.0 1751.1C1289.8 1745.7 1295.8 1738.1 1300.0 1730.7C1304.2 1723.3 1306.5 1715.3 1308.5 1706.8C1310.5 1698.3 1310.2 1688.6 1311.9 1679.5C1313.6 1670.4 1315.7 1660.8 1318.8 1652.3C1321.9 1643.8 1325.9 1636.4 1330.7 1628.4C1335.5 1620.4 1342.0 1612.5 1347.7 1604.5C1353.4 1596.5 1359.7 1588.7 1364.8 1580.7C1369.9 1572.8 1375.0 1564.8 1378.4 1556.8C1381.8 1548.8 1384.1 1541.5 1385.2 1533.0C1386.3 1524.5 1384.9 1514.8 1385.2 1505.7C1385.5 1496.6 1385.5 1487.5 1386.9 1478.4C1388.3 1469.3 1391.0 1460.2 1393.8 1451.1C1396.6 1442.0 1401.1 1432.4 1404.0 1423.9C1406.9 1415.4 1409.6 1408.5 1411.4 1400.0C1413.2 1391.5 1414.3 1382.9 1414.8 1372.7C1415.2 1362.5 1414.7 1350.0 1414.1 1338.6C1413.5 1327.2 1412.1 1315.8 1411.4 1304.5C1410.7 1293.2 1410.3 1281.8 1409.7 1270.5C1409.1 1259.2 1408.9 1247.8 1408.0 1236.4C1407.1 1225.0 1405.9 1213.7 1404.5 1202.3C1403.1 1190.9 1401.4 1179.6 1399.4 1168.2C1397.4 1156.8 1394.6 1145.5 1392.6 1134.1C1390.6 1122.7 1388.3 1113.3 1387.5 1100.0C1386.7 1086.7 1387.9 1066.6 1388.0 1054.5C1388.1 1042.4 1388.5 1036.4 1388.0 1027.3C1387.5 1018.2 1386.8 1009.1 1385.2 1000.0C1383.6 990.9 1381.2 981.8 1378.4 972.7C1375.6 963.6 1372.2 954.0 1368.2 945.5C1364.2 937.0 1359.6 929.6 1354.5 921.6C1349.4 913.6 1343.2 905.1 1337.5 897.7C1331.8 890.3 1326.8 883.5 1320.5 877.3C1314.2 871.0 1311.8 859.8 1300.0 860.2C1288.2 860.7 1258.3 876.7 1250.0 880.0L250.0 880.0Z"/><clipPath id="c_blue"><use href="#blue"/></clipPath></defs>
<use href="#blue" fill="#719fbf"/>
<g fill="#b8e0f6" clip-path="url(#c_blue)"><path d="M73.3 934.1C70.8 939.8 61.6 956.8 58.0 968.2C54.4 979.6 52.9 990.9 51.8 1002.3C50.6 1013.7 51.2 1025.0 51.1 1036.4C51.0 1047.8 51.4 1059.2 51.1 1070.5C50.8 1081.8 50.4 1090.9 49.4 1104.5C48.4 1118.1 45.7 1144.3 45.0 1152.3C46.0 1150.0 48.9 1146.6 51.1 1138.6C53.3 1130.6 56.3 1115.8 58.0 1104.5C59.7 1093.2 60.7 1081.8 61.4 1070.5C62.1 1059.2 62.1 1047.8 62.4 1036.4C62.7 1025.0 62.1 1012.5 63.1 1002.3C64.1 992.1 65.4 985.0 68.2 975.0C71.0 965.0 78.1 948.0 80.1 942.6L73.3 934.1Z"/><path d="M37.5 1160.8L59.7 1165.9C58.3 1172.7 54.2 1191.5 51.1 1206.8C48.0 1222.1 44.3 1241.0 40.9 1258.0C37.5 1275.0 33.5 1298.0 30.7 1309.1C27.9 1320.2 25.0 1321.9 23.9 1324.4L13.6 1275.0L37.5 1160.8Z"/><path d="M119.3 1165.9C124.4 1163.6 140.3 1156.8 150.0 1152.3C159.7 1147.8 168.8 1143.4 177.3 1138.6C185.8 1133.8 193.7 1127.8 201.1 1123.3C208.5 1118.8 218.2 1113.4 221.6 1111.4L259.1 1143.8C258.0 1144.4 258.6 1145.2 252.3 1147.2C246.1 1149.2 231.8 1151.5 221.6 1155.7C211.4 1160.0 199.4 1167.0 190.9 1172.7C182.4 1178.4 175.9 1183.0 170.5 1189.8C165.1 1196.6 160.8 1205.1 158.5 1213.6C156.2 1222.1 156.0 1231.8 156.8 1240.9C157.7 1250.0 159.6 1259.7 163.6 1268.2C167.6 1276.7 177.8 1288.0 180.7 1292.0C177.8 1292.6 169.8 1296.6 163.6 1295.5C157.3 1294.4 149.2 1289.5 143.2 1285.2C137.2 1280.9 132.1 1275.6 127.8 1269.9C123.5 1264.2 120.4 1257.6 117.6 1251.1C114.8 1244.6 112.5 1238.1 110.8 1230.7C109.1 1223.3 107.7 1214.8 107.4 1206.8C107.1 1198.8 107.1 1189.8 109.1 1183.0C111.1 1176.2 117.6 1168.8 119.3 1165.9Z"/><path d="M201.1 1305.7C208.5 1304.6 231.8 1301.2 245.5 1298.9C259.1 1296.6 276.8 1293.2 283.0 1292.0C280.7 1295.4 275.0 1305.1 269.3 1312.5C263.6 1319.9 255.2 1328.5 248.9 1336.4C242.7 1344.4 236.4 1356.2 231.8 1360.2C227.2 1364.2 225.6 1355.3 221.6 1360.5C217.6 1365.7 211.4 1380.3 208.0 1391.1C204.6 1401.9 201.7 1413.8 201.1 1425.2C200.5 1436.6 201.7 1448.5 204.5 1459.3C207.3 1470.1 212.5 1480.3 218.2 1490.0C223.9 1499.7 232.1 1508.8 238.6 1517.3C245.1 1525.8 253.9 1533.0 257.4 1541.1C260.9 1549.2 259.4 1561.6 259.8 1565.7C257.4 1564.5 250.7 1561.7 245.5 1558.2C240.3 1554.7 234.9 1550.5 228.4 1544.5C221.9 1538.5 213.1 1530.4 206.3 1522.4C199.5 1514.5 192.9 1505.6 187.5 1496.8C182.1 1488.0 177.6 1479.2 173.9 1469.5C170.2 1459.8 167.1 1449.1 165.3 1438.9C163.5 1428.7 162.7 1418.4 163.0 1408.2C163.3 1398.0 165.5 1385.5 167.0 1377.5C168.5 1369.5 169.9 1366.5 172.2 1360.2C174.5 1353.9 177.6 1346.6 180.7 1339.8C183.8 1333.0 187.5 1325.0 190.9 1319.3C194.3 1313.6 199.4 1308.0 201.1 1305.7Z"/><path d="M107.4 1298.9C108.5 1302.9 112.2 1314.8 114.2 1322.7C116.2 1330.7 118.7 1339.2 119.3 1346.6C119.9 1354.0 118.2 1359.5 117.6 1366.9C117.0 1374.3 116.2 1387.1 115.9 1391.1C113.6 1391.1 106.0 1395.6 102.3 1391.1C98.6 1386.6 94.9 1369.6 93.8 1363.9C92.7 1358.2 95.8 1361.4 95.5 1356.8C95.2 1352.2 93.2 1342.9 92.0 1336.4C90.8 1329.9 88.7 1320.7 88.0 1317.6L107.4 1298.9Z"/><path d="M114.2 1085.8C114.5 1083.2 114.8 1075.6 115.9 1070.5C117.0 1065.4 118.7 1059.9 121.0 1055.1C123.3 1050.3 128.1 1043.8 129.5 1041.5L160.2 1063.6C157.4 1066.2 150.9 1075.3 143.2 1079.0C135.5 1082.7 119.0 1084.7 114.2 1085.8Z"/><path d="M542.0 1314.2C548.2 1319.0 564.8 1333.2 579.5 1343.2C594.2 1353.2 621.6 1368.8 630.0 1373.9L511.4 1373.9C507.7 1371.1 490.9 1362.5 489.2 1356.8C487.5 1351.1 496.3 1344.9 501.1 1339.8C505.9 1334.7 511.4 1330.4 518.2 1326.1C525.0 1321.8 538.0 1316.2 542.0 1314.2Z"/><path d="M23.9 1353.6C26.2 1360.4 31.8 1382.6 37.5 1394.5C43.2 1406.4 50.9 1417.2 58.0 1425.2C65.1 1433.2 76.4 1439.5 80.1 1442.3C77.5 1443.7 70.8 1447.7 64.8 1450.8C58.8 1453.9 47.7 1459.3 44.3 1461.0C42.6 1455.0 37.2 1436.9 34.1 1425.2C31.0 1413.5 27.3 1403.0 25.6 1391.1C23.9 1379.2 24.2 1359.8 23.9 1353.6Z"/><path d="M51.1 1486.6C53.1 1494.0 58.5 1518.4 63.1 1530.9C67.7 1543.4 72.4 1551.9 78.4 1561.6C84.4 1571.3 92.1 1579.8 98.9 1588.9C105.7 1598.0 113.0 1606.4 119.3 1616.1C125.5 1625.8 131.8 1636.6 136.4 1646.8C141.0 1657.0 143.2 1667.8 146.6 1677.5C150.0 1687.2 152.2 1698.0 156.8 1704.8C161.4 1711.6 167.1 1716.4 173.9 1718.4C180.7 1720.4 189.8 1717.3 197.7 1716.7C205.6 1716.1 214.2 1713.6 221.6 1715.0C229.0 1716.4 236.2 1721.2 242.0 1725.2C247.8 1729.2 254.0 1736.6 256.4 1738.9L258.4 1779.8L204.5 1766.1L136.4 1749.1L102.3 1663.9L40.9 1551.4L51.1 1486.6Z"/><path d="M366.5 1333.0C363.4 1333.6 353.7 1334.1 347.7 1336.4C341.7 1338.7 335.8 1342.6 330.7 1346.6C325.6 1350.6 321.0 1353.9 317.0 1360.2C313.0 1366.5 310.2 1375.2 306.8 1384.3C303.4 1393.4 299.7 1404.8 296.6 1415.0C293.5 1425.2 291.0 1435.5 288.1 1445.7C285.2 1455.9 282.4 1465.6 279.5 1476.4C276.6 1487.2 273.6 1499.7 271.0 1510.5C268.4 1521.3 266.2 1532.0 264.2 1541.1C262.2 1550.2 261.1 1555.3 259.1 1565.0C257.1 1574.7 254.0 1587.7 252.3 1599.1C250.6 1610.5 249.5 1621.8 248.9 1633.2C248.3 1644.6 248.3 1656.5 248.9 1667.3C249.5 1678.1 251.2 1688.3 252.3 1698.0C253.4 1707.7 254.7 1712.7 255.7 1725.2C256.7 1737.7 257.9 1765.0 258.4 1773.0L315.3 1735.5C313.9 1732.1 309.6 1723.0 306.8 1715.0C304.0 1707.0 300.9 1697.4 298.3 1687.7C295.8 1678.0 293.2 1667.8 291.5 1657.0C289.8 1646.2 288.4 1634.3 288.1 1623.0C287.8 1611.7 289.0 1600.3 289.8 1588.9C290.6 1577.5 291.5 1566.2 293.2 1554.8C294.9 1543.4 297.7 1532.1 300.0 1520.7C302.3 1509.3 304.8 1498.0 306.8 1486.6C308.8 1475.2 310.2 1463.9 311.9 1452.5C313.6 1441.1 315.0 1429.8 317.0 1418.4C319.0 1407.0 319.9 1395.1 323.9 1384.3C327.9 1373.5 331.8 1358.8 340.9 1353.6C350.0 1348.4 372.1 1353.4 378.4 1353.4C377.0 1350.6 371.9 1339.8 369.9 1336.4C367.9 1333.0 367.1 1333.6 366.5 1333.0Z"/><path d="M151.7 1575.2C156.5 1579.2 171.3 1591.7 180.7 1599.1C190.1 1606.5 199.5 1613.8 208.0 1619.5C216.5 1625.2 225.1 1629.9 231.8 1633.2C238.5 1636.5 245.5 1638.3 248.2 1639.3L249.9 1684.3C248.0 1683.2 243.3 1680.9 238.6 1677.5C233.9 1674.1 227.8 1669.6 221.6 1663.9C215.3 1658.2 207.9 1650.8 201.1 1643.4C194.3 1636.0 186.9 1627.5 180.7 1619.5C174.4 1611.5 168.4 1603.1 163.6 1595.7C158.8 1588.3 153.7 1578.6 151.7 1575.2Z"/><path d="M415.2 1467.8C417.0 1469.2 424.9 1469.3 426.1 1476.4C427.4 1483.5 423.3 1499.2 422.7 1510.5C422.1 1521.8 422.1 1533.2 422.7 1544.5C423.3 1555.8 424.4 1567.2 426.1 1578.6C427.8 1590.0 430.1 1602.5 433.0 1612.7C435.9 1622.9 439.2 1631.5 443.2 1640.0C447.2 1648.5 452.2 1656.5 456.8 1663.9C461.4 1671.3 466.5 1678.9 470.5 1684.3C474.5 1689.7 479.0 1694.2 480.7 1696.2L424.4 1703.1C423.3 1700.5 420.2 1694.2 417.6 1687.7C415.1 1681.2 411.7 1671.9 409.1 1663.9C406.6 1656.0 404.6 1648.5 402.3 1640.0C400.0 1631.5 397.2 1621.8 395.5 1612.7C393.8 1603.6 392.6 1594.0 392.0 1585.5C391.4 1577.0 391.4 1569.6 392.0 1561.6C392.6 1553.6 394.1 1545.7 395.5 1537.7C396.9 1529.8 398.6 1521.9 400.6 1513.9C402.6 1506.0 405.0 1497.7 407.4 1490.0C409.8 1482.3 413.9 1471.5 415.2 1467.8Z"/><path d="M395.5 1359.1C397.8 1363.6 404.0 1376.5 409.1 1386.4C414.2 1396.4 417.6 1413.7 426.1 1418.8C434.6 1423.9 448.8 1417.3 460.2 1417.0C471.6 1416.7 482.9 1416.4 494.3 1417.0C505.7 1417.6 517.6 1418.8 528.4 1420.5C539.2 1422.2 550.0 1423.9 559.1 1427.3C568.2 1430.7 576.2 1435.2 583.0 1440.9C589.8 1446.6 594.9 1454.6 600.0 1461.4C605.1 1468.2 609.1 1475.5 613.6 1481.8C618.1 1488.0 623.8 1496.6 627.3 1498.9C630.8 1501.2 633.5 1496.1 634.8 1495.5C634.4 1493.8 633.6 1489.8 632.4 1485.2C631.1 1480.7 629.6 1474.5 627.3 1468.2C625.0 1462.0 622.2 1454.5 618.8 1447.7C615.4 1440.9 611.6 1433.5 606.8 1427.3C602.0 1421.0 596.0 1415.0 589.8 1410.2C583.5 1405.4 576.7 1401.7 569.3 1398.3C561.9 1394.9 554.0 1392.3 545.5 1389.8C537.0 1387.2 528.2 1385.2 518.2 1383.0C508.3 1380.8 497.2 1378.8 485.8 1376.8C474.4 1374.8 461.1 1372.9 450.0 1371.0C438.9 1369.1 428.4 1367.2 419.3 1365.2C410.2 1363.2 399.5 1360.1 395.5 1359.1Z"/><path d="M592.4 1558.2C595.0 1562.8 604.3 1575.3 607.7 1585.5C611.1 1595.7 612.5 1608.2 612.8 1619.5C613.1 1630.8 609.7 1643.9 609.4 1653.6C609.1 1663.3 608.5 1670.1 611.1 1677.5C613.7 1684.9 618.5 1692.3 624.8 1698.0C631.0 1703.7 640.1 1708.5 648.6 1711.6C657.1 1714.7 667.1 1715.7 675.9 1716.7C684.7 1717.7 697.2 1717.5 701.5 1717.7L701.5 1742.3L628.2 1738.9L573.6 1708.2L560.0 1680.9C562.1 1676.9 568.8 1665.0 572.6 1657.0C576.4 1649.0 579.9 1641.7 582.8 1633.2C585.6 1624.7 588.3 1615.0 589.7 1605.9C591.1 1596.8 591.0 1586.5 591.4 1578.6C591.8 1570.6 592.2 1561.6 592.4 1558.2Z"/><path d="M535.2 1304.5L705.7 1437.5L703.2 1544.5L701.1 1663.9C700.9 1661.1 700.6 1661.0 699.8 1646.8C699.0 1632.6 697.8 1601.3 696.4 1578.6C695.0 1555.9 694.6 1528.7 691.2 1510.5C687.8 1492.3 682.4 1481.4 675.9 1469.5C669.4 1457.6 661.1 1448.6 652.0 1438.9C642.9 1429.2 631.6 1420.1 621.4 1411.6C611.2 1403.1 600.8 1395.0 590.7 1387.7C580.6 1380.4 567.8 1374.6 560.8 1367.6C553.8 1360.6 552.7 1353.2 548.9 1345.5C545.1 1337.8 540.3 1328.4 538.0 1321.6C535.7 1314.8 535.7 1307.3 535.2 1304.5Z"/><path d="M727.0 1519.0C730.3 1513.4 738.8 1494.8 746.6 1485.2C754.4 1475.6 764.2 1469.4 773.9 1461.4C783.5 1453.5 794.9 1445.5 804.5 1437.5C814.1 1429.5 824.4 1422.1 831.8 1413.6C839.2 1405.1 845.0 1396.1 848.9 1386.4C852.8 1376.8 855.0 1364.8 855.0 1355.7C855.0 1346.6 852.8 1338.6 848.9 1331.8C845.0 1325.0 838.6 1319.9 831.8 1314.8C825.0 1309.7 812.0 1303.4 808.0 1301.1L852.3 1277.3L908.5 1304.5C908.2 1307.3 908.6 1312.3 906.8 1321.6C905.0 1330.9 900.2 1349.5 897.5 1360.5C894.8 1371.5 894.1 1378.6 890.7 1387.7C887.3 1396.8 882.7 1406.5 877.0 1415.0C871.3 1423.5 864.6 1431.5 856.6 1438.9C848.6 1446.3 839.0 1453.0 829.3 1459.3C819.6 1465.5 808.2 1471.3 798.6 1476.4C789.0 1481.5 780.5 1484.9 771.4 1490.0C762.3 1495.1 751.5 1502.2 744.1 1507.0C736.7 1511.8 729.9 1517.0 727.0 1519.0Z"/><path d="M754.3 1592.3C758.8 1591.8 771.9 1589.1 781.6 1589.5C791.3 1589.9 802.6 1594.8 812.3 1594.7C821.9 1594.6 830.4 1592.2 839.5 1588.9C848.6 1585.7 858.3 1580.9 866.8 1575.2C875.3 1569.5 883.9 1562.2 890.7 1554.8C897.5 1547.4 903.5 1539.4 907.7 1530.9C912.0 1522.4 913.9 1512.7 916.2 1503.6C918.5 1494.5 919.7 1485.5 921.4 1476.4C923.1 1467.3 924.2 1457.6 926.5 1449.1C928.8 1440.6 933.6 1429.2 935.0 1425.2C935.9 1427.5 938.7 1432.7 940.1 1438.9C941.5 1445.2 942.4 1453.6 943.5 1462.7C944.6 1471.8 946.6 1483.7 946.9 1493.4C947.2 1503.1 946.6 1511.6 945.2 1520.7C943.8 1529.8 941.2 1539.5 938.4 1548.0C935.6 1556.5 932.8 1564.7 928.2 1571.8C923.7 1578.9 918.5 1584.9 911.1 1590.6C903.7 1596.3 893.0 1600.5 883.9 1605.9C874.8 1611.3 865.7 1617.3 856.6 1623.0C847.5 1628.7 837.8 1634.6 829.3 1640.0C820.8 1645.4 809.5 1652.8 805.5 1655.3C804.4 1654.2 802.0 1651.0 798.6 1648.5C795.2 1646.0 790.1 1643.7 785.0 1640.0C779.9 1636.3 772.5 1631.5 768.0 1626.4C763.5 1621.3 760.0 1615.0 757.7 1609.3C755.4 1603.6 754.9 1595.1 754.3 1592.3Z"/><path d="M725.3 1544.5L730.5 1544.5C731.1 1555.9 733.0 1592.8 733.9 1612.7C734.8 1632.6 733.9 1650.8 735.6 1663.9C737.3 1677.0 739.9 1684.6 744.1 1691.1C748.4 1697.6 754.9 1701.4 761.1 1703.1C767.4 1704.8 775.6 1703.1 781.6 1701.4C787.6 1699.7 794.4 1694.2 796.9 1692.8C797.2 1694.8 800.0 1700.0 798.6 1704.8C797.2 1709.6 792.9 1715.8 788.4 1721.8C783.9 1727.8 774.2 1737.5 771.4 1740.6L725.3 1742.3L725.3 1544.5Z"/><path d="M916.2 1592.3L923.1 1578.6C926.2 1579.2 937.5 1577.5 941.8 1582.0C946.0 1586.5 946.9 1596.8 948.6 1605.9C950.3 1615.0 950.3 1627.5 952.0 1636.6C953.7 1645.7 954.9 1654.5 958.9 1660.5C962.9 1666.5 969.1 1671.3 975.9 1672.4C982.7 1673.5 992.4 1670.4 999.8 1667.3C1007.2 1664.2 1014.0 1658.1 1020.2 1653.6C1026.5 1649.0 1034.5 1642.3 1037.3 1640.0C1037.3 1644.0 1039.6 1656.5 1037.3 1663.9C1035.0 1671.3 1029.3 1677.5 1023.6 1684.3C1017.9 1691.1 1006.6 1701.4 1003.2 1704.8L883.9 1701.4C886.7 1698.0 895.8 1686.6 900.9 1680.9C906.0 1675.2 910.5 1672.4 914.5 1667.3C918.5 1662.2 922.5 1656.5 924.8 1650.2C927.1 1644.0 928.5 1636.6 928.2 1629.8C927.9 1623.0 925.1 1615.5 923.1 1609.3C921.1 1603.0 917.4 1595.1 916.2 1592.3Z"/><path d="M935.0 1558.2C935.6 1556.2 932.7 1547.6 938.4 1546.2C944.1 1544.8 958.9 1550.0 969.1 1549.7C979.3 1549.4 990.7 1547.6 999.8 1544.5C1008.9 1541.4 1017.9 1536.6 1023.6 1530.9C1029.3 1525.2 1032.8 1518.5 1033.9 1510.5C1035.1 1502.5 1032.8 1492.3 1030.5 1483.2C1028.2 1474.1 1022.5 1465.6 1020.2 1455.9C1017.9 1446.2 1016.2 1434.9 1016.8 1425.2C1017.4 1415.5 1019.6 1406.5 1023.6 1398.0C1027.6 1389.5 1037.9 1378.1 1040.7 1374.1L1060.5 1370.7C1059.5 1374.1 1055.9 1383.7 1054.3 1391.1C1052.7 1398.5 1051.5 1406.5 1050.9 1415.0C1050.3 1423.5 1050.1 1433.2 1050.9 1442.3C1051.8 1451.4 1053.2 1461.5 1056.0 1469.5C1058.8 1477.5 1064.0 1483.2 1068.0 1490.0C1072.0 1496.8 1077.4 1503.1 1079.9 1510.5C1082.5 1517.9 1083.3 1526.3 1083.3 1534.3C1083.3 1542.2 1082.5 1550.8 1079.9 1558.2C1077.4 1565.6 1072.8 1572.5 1068.0 1578.6C1063.2 1584.7 1053.8 1592.3 1050.9 1595.0C1046.4 1594.5 1033.2 1594.2 1023.6 1592.3C1014.0 1590.4 1003.2 1587.2 993.0 1583.8C982.8 1580.4 972.0 1576.1 962.3 1571.8C952.6 1567.5 939.5 1560.5 935.0 1558.2Z"/><path d="M1076.5 1496.8C1077.9 1492.8 1080.2 1479.2 1085.0 1473.0C1089.8 1466.8 1096.6 1464.6 1105.5 1459.3C1114.4 1454.0 1128.5 1445.7 1138.6 1440.9C1148.7 1436.1 1156.8 1434.1 1165.9 1430.7C1175.0 1427.3 1184.7 1424.5 1193.2 1420.5C1201.7 1416.5 1210.5 1411.9 1217.0 1406.8C1223.5 1401.7 1229.0 1396.0 1232.4 1389.8C1235.8 1383.5 1237.5 1376.7 1237.5 1369.3C1237.5 1361.9 1234.7 1353.5 1232.4 1345.5C1230.1 1337.5 1225.3 1329.0 1223.9 1321.6C1222.5 1314.2 1223.9 1304.5 1223.9 1301.1L1254.5 1298.4C1255.1 1301.7 1256.3 1311.5 1258.0 1318.2C1259.7 1324.9 1262.5 1332.3 1264.8 1338.6C1267.1 1344.8 1269.9 1349.5 1271.6 1355.7C1273.3 1362.0 1275.0 1369.3 1275.0 1376.1C1275.0 1382.9 1273.9 1389.8 1271.6 1396.6C1269.3 1403.4 1266.0 1410.5 1261.4 1417.0C1256.9 1423.5 1251.1 1430.4 1244.3 1435.8C1237.5 1441.2 1229.0 1445.7 1220.5 1449.4C1212.0 1453.1 1202.3 1455.4 1193.2 1458.0C1184.1 1460.6 1175.0 1462.5 1165.9 1464.8C1156.8 1467.1 1147.5 1469.1 1138.6 1471.6C1129.7 1474.1 1120.1 1477.3 1112.3 1479.8C1104.5 1482.3 1097.8 1483.8 1091.8 1486.6C1085.8 1489.4 1079.0 1495.1 1076.5 1496.8Z"/><path d="M1054.3 1594.0C1060.5 1592.6 1079.9 1588.1 1091.8 1585.5C1103.7 1582.9 1114.5 1580.9 1125.9 1578.6C1137.3 1576.3 1146.9 1576.6 1160.0 1571.8C1173.1 1567.0 1191.4 1555.9 1204.5 1550.0C1217.6 1544.1 1227.2 1541.5 1238.6 1536.4C1250.0 1531.3 1261.3 1525.5 1272.7 1519.3C1284.1 1513.0 1296.6 1505.7 1306.8 1498.9C1317.0 1492.1 1326.1 1485.2 1334.1 1478.4C1342.0 1471.6 1349.4 1465.4 1354.5 1458.0C1359.6 1450.6 1362.0 1442.1 1364.8 1434.1C1367.6 1426.1 1370.9 1420.4 1371.6 1410.2C1372.3 1400.0 1369.1 1385.8 1368.8 1372.7C1368.5 1359.6 1368.7 1346.0 1369.8 1331.8C1370.9 1317.6 1372.5 1301.1 1375.6 1287.5C1378.7 1273.9 1386.1 1256.2 1388.2 1250.0L1404.5 1250.0L1404.5 1406.8L1402.3 1434.1L1388.6 1502.3L1366.5 1514.2C1363.9 1516.2 1357.1 1521.8 1351.1 1526.1C1345.1 1530.4 1338.7 1535.2 1330.7 1539.8C1322.8 1544.3 1313.1 1549.2 1303.4 1553.4C1293.7 1557.7 1282.9 1561.9 1272.7 1565.3C1262.5 1568.7 1252.2 1571.3 1242.0 1573.9C1231.8 1576.5 1222.8 1576.8 1211.4 1580.7C1200.0 1584.6 1185.6 1593.5 1173.6 1597.4C1161.6 1601.3 1150.8 1602.5 1139.5 1604.2C1128.2 1605.9 1115.7 1607.6 1105.5 1607.6C1095.3 1607.6 1086.7 1606.5 1078.2 1604.2C1069.7 1601.9 1058.3 1595.7 1054.3 1594.0Z"/><path d="M935.0 1358.8C936.5 1358.3 939.3 1357.9 944.3 1355.7C949.3 1353.5 956.8 1348.1 964.8 1345.5C972.8 1342.9 982.4 1341.7 992.0 1340.3C1001.6 1338.9 1012.5 1338.0 1022.7 1336.9C1032.9 1335.8 1043.2 1335.2 1053.4 1333.5C1063.6 1331.8 1074.4 1329.5 1084.1 1326.7C1093.8 1323.9 1102.3 1320.5 1111.4 1316.5C1120.5 1312.5 1130.1 1307.6 1138.6 1302.8C1147.1 1298.0 1154.5 1292.3 1162.5 1287.5C1170.5 1282.7 1178.5 1278.2 1186.4 1273.9C1194.4 1269.6 1201.7 1265.0 1210.2 1261.9C1218.7 1258.8 1228.4 1257.1 1237.5 1255.1C1246.6 1253.1 1255.7 1252.0 1264.8 1250.0C1273.9 1248.0 1282.9 1246.0 1292.0 1243.2C1301.1 1240.4 1310.2 1237.0 1319.3 1233.0C1328.4 1229.0 1338.1 1224.4 1346.6 1219.3C1355.1 1214.2 1363.7 1208.3 1370.5 1202.3C1377.3 1196.3 1384.7 1186.6 1387.5 1183.5L1390.9 1243.2C1387.5 1246.0 1377.3 1255.1 1370.5 1260.2C1363.7 1265.3 1357.4 1269.6 1350.0 1273.9C1342.6 1278.2 1334.6 1282.4 1326.1 1285.8C1317.6 1289.2 1308.0 1292.3 1298.9 1294.3C1289.8 1296.3 1280.7 1297.4 1271.6 1297.7C1262.5 1298.0 1252.8 1296.3 1244.3 1296.0C1235.8 1295.7 1228.5 1295.2 1220.5 1296.0C1212.5 1296.8 1204.6 1298.5 1196.6 1301.1C1188.6 1303.7 1180.7 1307.4 1172.7 1311.4C1164.8 1315.4 1156.9 1320.2 1148.9 1325.0C1141.0 1329.8 1133.0 1335.5 1125.0 1340.3C1117.0 1345.1 1109.6 1350.0 1101.1 1354.0C1092.6 1358.0 1083.0 1361.4 1073.9 1364.2C1064.8 1367.0 1056.3 1369.0 1046.6 1371.0C1036.9 1373.0 1025.6 1375.0 1015.9 1376.1C1006.2 1377.2 996.4 1377.8 988.6 1377.8C980.8 1377.8 976.3 1377.0 969.1 1375.8C961.9 1374.6 950.9 1373.5 945.2 1370.7C939.5 1367.9 936.7 1360.8 935.0 1358.8Z"/><path d="M1153.2 1662.2C1151.8 1665.9 1147.3 1676.9 1144.7 1684.3C1142.1 1691.7 1141.2 1700.0 1137.8 1706.5C1134.4 1713.0 1130.5 1718.1 1124.2 1723.5C1118.0 1728.9 1104.3 1736.3 1100.3 1738.9L1137.8 1754.2C1139.2 1751.1 1143.8 1741.5 1146.4 1735.5C1149.0 1729.5 1151.5 1724.1 1153.2 1718.4C1154.9 1712.7 1155.8 1707.7 1156.6 1701.4C1157.4 1695.2 1158.9 1687.4 1158.3 1680.9C1157.7 1674.4 1154.0 1665.3 1153.2 1662.2Z"/><path d="M1169.3 1132.4C1168.2 1137.2 1165.0 1152.6 1162.5 1161.4C1160.0 1170.2 1156.7 1177.2 1154.0 1185.2C1151.3 1193.2 1148.0 1201.7 1146.1 1209.1C1144.2 1216.5 1143.3 1226.1 1142.7 1229.5C1144.6 1229.4 1149.6 1230.7 1154.0 1228.9C1158.4 1227.1 1164.5 1222.6 1169.3 1218.6C1174.1 1214.6 1178.7 1210.6 1183.0 1205.0C1187.3 1199.4 1191.2 1191.9 1194.9 1185.2C1198.6 1178.5 1202.3 1172.2 1205.1 1164.8C1207.9 1157.4 1210.2 1149.4 1211.9 1140.9C1213.6 1132.4 1214.7 1118.1 1215.3 1113.6L1169.3 1132.4Z"/><path d="M1183.0 1208.4C1187.0 1208.0 1198.3 1207.0 1206.8 1205.7C1215.3 1204.4 1225.6 1203.2 1234.1 1200.6C1242.6 1198.0 1250.6 1194.8 1258.0 1190.3C1265.4 1185.8 1272.7 1179.8 1278.4 1173.3C1284.1 1166.8 1288.3 1158.8 1292.0 1151.1C1295.7 1143.4 1298.0 1135.8 1300.6 1127.3C1303.2 1118.8 1303.8 1112.1 1307.4 1100.0C1311.0 1087.9 1319.5 1067.2 1322.2 1054.5C1325.0 1041.8 1324.2 1034.1 1323.9 1023.9C1323.6 1013.7 1321.1 998.3 1320.5 993.2L1340.9 938.6L1368.2 1006.8L1369.9 1063.1C1367.9 1065.6 1361.4 1073.0 1358.0 1078.4C1354.6 1083.8 1352.0 1089.2 1349.4 1095.5C1346.8 1101.8 1344.2 1112.3 1342.6 1115.9C1341.0 1119.5 1341.7 1113.4 1339.8 1117.0C1337.9 1120.6 1334.6 1130.7 1331.2 1137.5C1327.8 1144.3 1323.8 1151.2 1319.3 1158.0C1314.8 1164.8 1309.7 1172.2 1304.0 1178.4C1298.3 1184.7 1291.7 1190.7 1285.2 1195.5C1278.7 1200.3 1272.2 1204.0 1264.8 1207.4C1257.4 1210.8 1249.4 1213.9 1240.9 1215.9C1232.4 1217.9 1222.1 1218.7 1213.6 1219.3C1205.1 1219.9 1194.9 1221.1 1189.8 1219.3C1184.7 1217.5 1184.1 1210.2 1183.0 1208.4Z"/><path d="M1027.8 1238.1C1029.5 1241.5 1034.8 1252.0 1038.1 1258.5C1041.3 1265.0 1044.5 1273.9 1047.3 1277.3C1050.1 1280.7 1053.8 1278.7 1055.1 1279.0C1055.4 1274.7 1055.9 1261.1 1056.8 1253.4C1057.7 1245.7 1058.2 1240.4 1060.2 1233.0C1062.2 1225.6 1067.4 1213.1 1068.8 1209.1L1027.8 1238.1Z"/><path d="M934.1 1423.9C932.4 1427.9 926.8 1439.2 923.9 1447.7C921.0 1456.2 919.0 1465.9 917.0 1475.0C915.0 1484.1 913.9 1493.2 911.9 1502.3C909.9 1511.4 907.1 1522.1 905.1 1529.5C903.1 1536.9 902.0 1539.8 900.0 1546.6C898.0 1553.4 894.3 1566.5 893.2 1570.5L932.4 1570.5C933.2 1566.5 935.8 1554.6 937.5 1546.6C939.2 1538.6 941.5 1531.2 942.6 1522.7C943.7 1514.2 944.3 1504.6 944.3 1495.5C944.3 1486.4 943.5 1477.3 942.6 1468.2C941.8 1459.1 940.6 1448.3 939.2 1440.9C937.8 1433.5 935.0 1426.7 934.1 1423.9Z"/><path d="M1365.3 1509.1C1362.8 1513.6 1353.7 1526.8 1350.0 1536.4C1346.3 1546.1 1344.2 1565.9 1343.2 1567.0C1342.2 1568.1 1347.0 1542.6 1344.3 1543.2C1341.6 1543.8 1333.5 1561.4 1327.3 1570.5C1321.0 1579.6 1312.5 1588.6 1306.8 1597.7C1301.1 1606.8 1296.6 1615.3 1293.2 1625.0C1289.8 1634.7 1288.4 1644.9 1286.4 1655.7C1284.4 1666.5 1284.1 1679.6 1281.2 1689.8C1278.3 1700.0 1274.7 1709.0 1269.3 1717.0C1263.9 1725.0 1256.9 1731.8 1248.9 1737.5C1241.0 1743.2 1231.3 1747.1 1221.6 1751.1C1211.9 1755.1 1200.6 1757.7 1190.9 1761.4C1181.2 1765.1 1168.1 1771.3 1163.6 1773.3L1177.3 1792.0L1272.7 1761.4L1306.8 1706.8L1327.3 1631.8L1381.8 1556.8L1385.2 1509.1L1365.3 1509.1Z"/><path d="M1151.7 1664.2C1150.6 1669.0 1147.5 1684.4 1144.9 1693.2C1142.4 1702.0 1140.4 1709.9 1136.4 1717.0C1132.4 1724.1 1127.5 1731.2 1121.0 1735.8C1114.5 1740.3 1101.2 1742.9 1097.2 1744.3L1136.4 1761.4C1138.4 1758.6 1145.5 1750.0 1148.3 1744.3C1151.1 1738.6 1152.1 1733.5 1153.4 1727.3C1154.7 1721.0 1155.5 1714.2 1156.1 1706.8C1156.7 1699.4 1157.5 1690.1 1156.8 1683.0C1156.1 1675.9 1152.5 1667.3 1151.7 1664.2Z"/></g>
<g fill="none" stroke="#54809f" stroke-width="9.7" stroke-linecap="round" stroke-linejoin="round" clip-path="url(#c_blue)"><path d="M42.6 1150.6C46.9 1152.3 59.4 1158.5 68.2 1160.8C77.0 1163.1 86.4 1164.2 95.5 1164.2C104.6 1164.2 113.6 1162.8 122.7 1160.8C131.8 1158.8 140.9 1156.0 150.0 1152.3C159.1 1148.6 168.8 1143.4 177.3 1138.6C185.8 1133.8 194.3 1127.8 201.1 1123.3C207.9 1118.8 213.1 1115.1 218.2 1111.4C223.3 1107.7 229.5 1102.8 231.8 1101.1"/><path d="M114.2 1164.2C113.3 1167.3 110.2 1175.9 109.1 1183.0C108.0 1190.1 107.1 1198.8 107.4 1206.8C107.7 1214.8 109.1 1223.3 110.8 1230.7C112.5 1238.1 114.8 1244.6 117.6 1251.1C120.4 1257.6 123.5 1264.2 127.8 1269.9C132.1 1275.6 137.2 1280.9 143.2 1285.2C149.2 1289.5 155.6 1292.7 163.6 1295.5C171.6 1298.3 181.8 1300.9 190.9 1302.3C200.0 1303.7 209.1 1304.6 218.2 1304.0C227.3 1303.4 237.0 1301.8 245.5 1298.9C254.0 1296.1 261.9 1292.0 269.3 1286.9C276.7 1281.8 283.8 1275.3 289.8 1268.2C295.8 1261.1 300.9 1252.2 305.1 1244.3C309.4 1236.3 312.5 1228.5 315.3 1220.5C318.1 1212.5 320.5 1203.4 322.2 1196.6C323.9 1189.8 325.0 1182.3 325.6 1179.5"/><path d="M127.8 1269.9C125.8 1272.5 120.2 1279.8 115.9 1285.2C111.7 1290.6 106.8 1297.5 102.3 1302.3C97.8 1307.1 94.3 1311.7 88.6 1314.2C82.9 1316.8 75.0 1316.8 68.2 1317.6C61.4 1318.4 55.1 1318.0 47.7 1319.3C40.3 1320.6 27.9 1324.5 23.9 1325.5"/><path d="M86.9 1315.9C87.8 1319.3 90.6 1329.6 92.0 1336.4C93.4 1343.2 95.2 1352.2 95.5 1356.8C95.8 1361.4 92.7 1358.2 93.8 1363.9C94.9 1369.6 98.9 1382.0 102.3 1391.1C105.7 1400.2 110.2 1409.6 114.2 1418.4C118.2 1427.2 124.1 1439.7 126.1 1444.0"/><path d="M201.1 1304.0C199.4 1306.5 194.3 1313.3 190.9 1319.3C187.5 1325.3 183.8 1333.0 180.7 1339.8C177.6 1346.6 174.5 1353.9 172.2 1360.2C169.9 1366.5 168.5 1369.5 167.0 1377.5C165.5 1385.5 163.3 1398.0 163.0 1408.2C162.7 1418.4 163.5 1428.7 165.3 1438.9C167.1 1449.1 170.2 1459.8 173.9 1469.5C177.6 1479.2 182.1 1488.0 187.5 1496.8C192.9 1505.6 199.5 1514.5 206.3 1522.4C213.1 1530.4 221.9 1538.5 228.4 1544.5C234.9 1550.5 240.3 1554.7 245.5 1558.2C250.7 1561.7 257.4 1564.5 259.8 1565.7"/><path d="M110.8 1085.8C110.5 1083.2 108.2 1075.9 109.1 1070.5C109.9 1065.1 112.8 1058.8 115.9 1053.4C119.0 1048.0 125.8 1040.6 127.8 1038.1"/><path d="M373.3 1232.4C370.8 1235.5 361.7 1244.6 358.0 1251.1C354.3 1257.6 352.2 1264.8 351.1 1271.6C350.0 1278.4 350.0 1285.2 351.1 1292.0C352.2 1298.8 355.1 1306.2 358.0 1312.5C360.9 1318.8 364.8 1323.8 368.2 1329.5C371.6 1335.2 374.4 1341.5 378.4 1346.6C382.4 1351.7 390.3 1357.0 392.0 1360.2C393.7 1363.4 386.9 1361.0 388.6 1365.9C390.3 1370.8 398.3 1381.8 402.3 1389.8C406.3 1397.8 409.7 1405.1 412.5 1413.6C415.3 1422.1 418.4 1431.8 419.3 1440.9C420.2 1450.0 419.3 1459.1 417.6 1468.2C415.9 1477.3 411.9 1486.4 409.1 1495.5C406.3 1504.6 403.2 1513.6 400.6 1522.7C398.1 1531.8 394.9 1545.5 393.8 1550.0"/><path d="M366.5 1331.2C363.4 1332.1 353.7 1333.8 347.7 1336.4C341.7 1339.0 335.8 1342.6 330.7 1346.6C325.6 1350.6 321.0 1353.9 317.0 1360.2C313.0 1366.5 310.2 1375.2 306.8 1384.3C303.4 1393.4 299.7 1404.8 296.6 1415.0C293.5 1425.2 291.0 1435.5 288.1 1445.7C285.2 1455.9 282.4 1465.6 279.5 1476.4C276.6 1487.2 273.6 1499.7 271.0 1510.5C268.4 1521.3 266.2 1532.0 264.2 1541.1C262.2 1550.2 261.1 1555.3 259.1 1565.0C257.1 1574.7 254.0 1587.7 252.3 1599.1C250.6 1610.5 249.5 1621.8 248.9 1633.2C248.3 1644.6 248.3 1656.5 248.9 1667.3C249.5 1678.1 251.2 1688.3 252.3 1698.0C253.4 1707.7 254.8 1716.7 255.7 1725.2C256.5 1733.7 256.9 1741.1 257.4 1749.1C257.8 1757.1 258.2 1769.0 258.4 1773.0"/><path d="M538.6 1310.8C535.2 1313.3 524.5 1321.3 518.2 1326.1C512.0 1330.9 505.9 1334.7 501.1 1339.8C496.3 1344.9 491.8 1350.8 489.2 1356.8C486.6 1362.8 486.4 1372.9 485.8 1376.1"/><path d="M81.8 1445.7C79.0 1446.5 71.0 1448.2 64.8 1450.8C58.5 1453.3 47.7 1459.3 44.3 1461.0"/><path d="M150.0 1575.2C152.3 1578.6 158.5 1588.3 163.6 1595.7C168.7 1603.1 174.4 1611.5 180.7 1619.5C186.9 1627.5 194.3 1636.0 201.1 1643.4C207.9 1650.8 215.3 1658.2 221.6 1663.9C227.8 1669.6 233.8 1673.8 238.6 1677.5C243.4 1681.2 248.6 1684.6 250.6 1686.0"/><path d="M335.8 1551.4C338.4 1552.8 345.1 1557.6 351.1 1559.9C357.1 1562.2 364.8 1564.3 371.6 1565.0C378.4 1565.7 388.6 1564.4 392.0 1564.3"/><path d="M393.8 1550.0C397.2 1536.0 411.9 1476.1 414.2 1466.1C416.5 1456.1 409.7 1482.0 407.4 1490.0C405.1 1498.0 402.6 1506.0 400.6 1513.9C398.6 1521.9 396.9 1529.8 395.5 1537.7C394.1 1545.7 392.6 1553.6 392.0 1561.6C391.4 1569.6 391.4 1577.0 392.0 1585.5C392.6 1594.0 393.8 1603.6 395.5 1612.7C397.2 1621.8 400.0 1631.5 402.3 1640.0C404.6 1648.5 406.6 1656.0 409.1 1663.9C411.7 1671.9 415.1 1681.2 417.6 1687.7C420.2 1694.2 423.3 1700.5 424.4 1703.1"/><path d="M375.0 1350.6C378.4 1352.0 388.1 1356.7 395.5 1359.1C402.9 1361.5 410.2 1363.2 419.3 1365.2C428.4 1367.2 438.9 1369.1 450.0 1371.0C461.1 1372.9 474.4 1374.8 485.8 1376.8C497.2 1378.8 508.3 1380.8 518.2 1383.0C528.2 1385.2 537.0 1387.2 545.5 1389.8C554.0 1392.3 561.9 1394.9 569.3 1398.3C576.7 1401.7 583.5 1405.4 589.8 1410.2C596.0 1415.0 602.0 1421.0 606.8 1427.3C611.6 1433.5 615.4 1440.9 618.8 1447.7C622.2 1454.5 625.0 1462.0 627.3 1468.2C629.6 1474.5 631.1 1480.7 632.4 1485.2C633.6 1489.8 634.4 1493.8 634.8 1495.5"/><path d="M513.1 1481.8C515.1 1484.7 520.2 1493.5 525.0 1498.9C529.8 1504.3 536.3 1509.1 542.0 1514.2C547.7 1519.3 553.4 1524.7 559.1 1529.5C564.8 1534.3 571.3 1539.2 576.1 1543.2C580.9 1547.2 585.6 1547.5 588.1 1553.4C590.6 1559.3 591.1 1569.8 591.4 1578.6C591.7 1587.3 591.1 1596.8 589.7 1605.9C588.3 1615.0 585.6 1624.7 582.8 1633.2C579.9 1641.7 576.4 1649.6 572.6 1657.0C568.8 1664.4 562.1 1674.1 560.0 1677.5"/><path d="M588.1 1549.3C592.4 1548.3 605.9 1545.6 613.6 1543.2C621.3 1540.8 628.4 1537.6 634.1 1534.7C639.8 1531.8 645.4 1527.5 647.7 1526.1"/><path d="M726.0 1524.1C729.0 1521.2 736.5 1512.7 744.1 1507.0C751.7 1501.3 762.3 1495.1 771.4 1490.0C780.5 1484.9 789.0 1481.5 798.6 1476.4C808.2 1471.3 819.6 1465.5 829.3 1459.3C839.0 1453.0 848.6 1446.3 856.6 1438.9C864.6 1431.5 871.3 1423.5 877.0 1415.0C882.7 1406.5 887.3 1396.8 890.7 1387.7C894.1 1378.6 894.8 1371.5 897.5 1360.5C900.2 1349.5 905.2 1330.3 906.8 1321.6C908.3 1312.8 906.8 1310.3 906.8 1308.0"/><path d="M848.9 1280.7C852.3 1282.7 861.9 1289.2 869.3 1292.6C876.7 1296.0 884.7 1298.9 893.2 1301.1C901.7 1303.3 911.4 1304.6 920.5 1305.6C929.6 1306.6 939.2 1306.8 947.7 1306.9C956.2 1307.0 967.6 1306.3 971.6 1306.2"/><path d="M750.9 1590.6C752.0 1593.7 754.9 1603.3 757.7 1609.3C760.6 1615.3 763.5 1621.3 768.0 1626.4C772.5 1631.5 779.9 1636.3 785.0 1640.0C790.1 1643.7 795.2 1646.0 798.6 1648.5C802.0 1651.0 804.1 1652.2 805.5 1655.3C806.9 1658.4 807.5 1661.9 807.2 1667.3C806.9 1672.7 805.2 1681.5 803.8 1687.7C802.4 1694.0 801.2 1699.1 798.6 1704.8C796.0 1710.5 792.9 1716.1 788.4 1721.8C783.9 1727.5 774.2 1736.1 771.4 1738.9"/><path d="M805.5 1655.3C809.5 1652.8 820.8 1645.4 829.3 1640.0C837.8 1634.6 847.5 1628.7 856.6 1623.0C865.7 1617.3 874.8 1611.3 883.9 1605.9C893.0 1600.5 903.7 1596.3 911.1 1590.6C918.5 1584.9 923.7 1578.9 928.2 1571.8C932.8 1564.7 935.6 1556.5 938.4 1548.0C941.2 1539.5 943.8 1529.8 945.2 1520.7C946.6 1511.6 947.2 1503.1 946.9 1493.4C946.6 1483.7 944.6 1471.8 943.5 1462.7C942.4 1453.6 941.2 1445.7 940.1 1438.9C939.0 1432.1 937.3 1424.7 936.7 1421.8"/><path d="M914.5 1590.6C915.9 1593.7 920.8 1602.8 923.1 1609.3C925.4 1615.8 927.9 1623.0 928.2 1629.8C928.5 1636.6 927.1 1644.0 924.8 1650.2C922.5 1656.5 918.5 1662.2 914.5 1667.3C910.5 1672.4 906.0 1676.4 900.9 1680.9C895.8 1685.4 886.7 1692.2 883.9 1694.5"/><path d="M933.3 1559.9C938.1 1561.9 952.3 1567.8 962.3 1571.8C972.2 1575.8 982.8 1580.4 993.0 1583.8C1003.2 1587.2 1014.0 1590.3 1023.6 1592.3C1033.2 1594.3 1046.4 1591.7 1050.9 1595.7C1055.5 1599.7 1051.8 1608.7 1050.9 1616.1C1050.1 1623.5 1048.1 1632.0 1045.8 1640.0C1043.5 1648.0 1041.0 1656.5 1037.3 1663.9C1033.6 1671.3 1028.7 1678.0 1023.6 1684.3C1018.5 1690.5 1009.4 1698.6 1006.6 1701.4"/><path d="M1050.9 1595.7C1055.5 1597.1 1069.1 1602.2 1078.2 1604.2C1087.3 1606.2 1095.3 1607.6 1105.5 1607.6C1115.7 1607.6 1128.2 1605.9 1139.5 1604.2C1150.8 1602.5 1161.6 1601.3 1173.6 1597.4C1185.6 1593.5 1200.0 1584.6 1211.4 1580.7C1222.8 1576.8 1231.8 1576.5 1242.0 1573.9C1252.2 1571.3 1262.5 1568.7 1272.7 1565.3C1282.9 1561.9 1293.7 1557.7 1303.4 1553.4C1313.1 1549.2 1322.8 1544.3 1330.7 1539.8C1338.7 1535.2 1345.1 1530.4 1351.1 1526.1C1357.1 1521.8 1363.9 1516.2 1366.5 1514.2"/><path d="M1050.9 1594.7C1053.8 1592.0 1063.2 1584.7 1068.0 1578.6C1072.8 1572.5 1077.4 1565.6 1079.9 1558.2C1082.5 1550.8 1083.3 1542.2 1083.3 1534.3C1083.3 1526.3 1082.5 1517.9 1079.9 1510.5C1077.4 1503.1 1072.0 1496.8 1068.0 1490.0C1064.0 1483.2 1058.8 1477.5 1056.0 1469.5C1053.2 1461.5 1051.8 1451.4 1050.9 1442.3C1050.1 1433.2 1050.3 1423.5 1050.9 1415.0C1051.5 1406.5 1052.6 1398.8 1054.3 1391.1C1056.0 1383.4 1060.0 1372.7 1061.1 1369.0"/><path d="M931.6 1362.2C933.9 1363.6 939.0 1368.4 945.2 1370.7C951.5 1373.0 961.9 1374.6 969.1 1375.8C976.3 1377.0 980.8 1377.8 988.6 1377.8C996.4 1377.8 1006.2 1377.2 1015.9 1376.1C1025.6 1375.0 1036.9 1373.0 1046.6 1371.0C1056.3 1369.0 1064.8 1367.0 1073.9 1364.2C1083.0 1361.4 1092.6 1358.0 1101.1 1354.0C1109.6 1350.0 1117.0 1345.1 1125.0 1340.3C1133.0 1335.5 1141.0 1329.8 1148.9 1325.0C1156.9 1320.2 1164.8 1315.4 1172.7 1311.4C1180.7 1307.4 1188.6 1303.7 1196.6 1301.1C1204.6 1298.5 1212.5 1296.8 1220.5 1296.0C1228.5 1295.2 1235.8 1295.7 1244.3 1296.0C1252.8 1296.3 1262.5 1298.0 1271.6 1297.7C1280.7 1297.4 1289.8 1296.3 1298.9 1294.3C1308.0 1292.3 1317.6 1289.2 1326.1 1285.8C1334.6 1282.4 1342.6 1278.2 1350.0 1273.9C1357.4 1269.6 1363.7 1265.3 1370.5 1260.2C1377.3 1255.1 1387.5 1246.0 1390.9 1243.2"/><path d="M1076.5 1498.5C1079.0 1496.5 1085.8 1489.7 1091.8 1486.6C1097.8 1483.5 1104.5 1482.3 1112.3 1479.8C1120.1 1477.3 1129.7 1474.1 1138.6 1471.6C1147.5 1469.1 1156.8 1467.1 1165.9 1464.8C1175.0 1462.5 1184.1 1460.6 1193.2 1458.0C1202.3 1455.4 1212.0 1453.1 1220.5 1449.4C1229.0 1445.7 1237.5 1441.2 1244.3 1435.8C1251.1 1430.4 1256.9 1423.5 1261.4 1417.0C1266.0 1410.5 1269.3 1403.4 1271.6 1396.6C1273.9 1389.8 1275.0 1382.9 1275.0 1376.1C1275.0 1369.3 1273.3 1362.0 1271.6 1355.7C1269.9 1349.5 1267.1 1344.8 1264.8 1338.6C1262.5 1332.3 1259.7 1325.0 1258.0 1318.2C1256.3 1311.4 1255.1 1301.1 1254.5 1297.7"/><path d="M1156.6 1660.5C1156.9 1663.9 1158.3 1674.1 1158.3 1680.9C1158.3 1687.7 1157.4 1695.2 1156.6 1701.4C1155.8 1707.7 1154.9 1712.7 1153.2 1718.4C1151.5 1724.1 1149.0 1729.8 1146.4 1735.5C1143.8 1741.2 1139.2 1749.7 1137.8 1752.5"/><path d="M1154.9 1718.4C1158.0 1717.3 1173.3 1711.5 1173.6 1711.6C1173.9 1711.7 1156.8 1719.0 1156.8 1718.8C1156.8 1718.6 1167.1 1713.9 1173.9 1710.2C1180.7 1706.5 1189.8 1701.7 1197.7 1696.6C1205.7 1691.5 1213.9 1685.8 1221.6 1679.5C1229.3 1673.2 1237.5 1666.5 1243.8 1659.1C1250.0 1651.7 1255.1 1643.2 1259.1 1635.2C1263.1 1627.2 1265.6 1618.8 1267.6 1611.4C1269.6 1604.0 1270.7 1597.7 1271.0 1590.9C1271.3 1584.1 1269.6 1573.9 1269.3 1570.5"/><path d="M1215.3 1110.2C1214.7 1115.3 1213.6 1131.8 1211.9 1140.9C1210.2 1150.0 1207.9 1157.4 1205.1 1164.8C1202.3 1172.2 1198.6 1178.4 1194.9 1185.2C1191.2 1192.0 1187.3 1200.0 1183.0 1205.7C1178.7 1211.4 1174.1 1215.3 1169.3 1219.3C1164.5 1223.3 1158.8 1227.2 1154.0 1229.5C1149.2 1231.8 1142.6 1232.4 1140.3 1233.0"/><path d="M1171.0 1217.6C1174.1 1217.9 1182.7 1219.0 1189.8 1219.3C1196.9 1219.6 1205.1 1219.9 1213.6 1219.3C1222.1 1218.7 1232.4 1217.9 1240.9 1215.9C1249.4 1213.9 1257.4 1210.8 1264.8 1207.4C1272.2 1204.0 1278.7 1200.3 1285.2 1195.5C1291.7 1190.7 1298.3 1184.7 1304.0 1178.4C1309.7 1172.2 1314.8 1164.8 1319.3 1158.0C1323.8 1151.2 1327.8 1144.3 1331.2 1137.5C1334.6 1130.7 1337.5 1123.2 1339.8 1117.0C1342.1 1110.8 1344.4 1100.2 1344.9 1100.0C1345.4 1099.8 1341.8 1116.7 1342.6 1115.9C1343.3 1115.2 1346.8 1101.8 1349.4 1095.5C1352.0 1089.2 1354.6 1083.8 1358.0 1078.4C1361.4 1073.0 1367.9 1065.6 1369.9 1063.1"/><path d="M1068.8 1209.1C1067.4 1213.1 1062.2 1225.6 1060.2 1233.0C1058.2 1240.4 1057.7 1246.0 1056.8 1253.4C1055.9 1260.8 1055.4 1273.3 1055.1 1277.3"/><path d="M1266.5 1342.0C1268.5 1344.0 1273.6 1350.6 1278.4 1354.0C1283.2 1357.4 1289.0 1360.5 1295.5 1362.5C1302.0 1364.5 1313.9 1365.3 1317.6 1365.9"/><path d="M1060.2 1372.7C1058.5 1375.5 1052.5 1383.0 1050.0 1389.8C1047.5 1396.6 1045.8 1405.1 1044.9 1413.6C1044.1 1422.1 1044.1 1432.4 1044.9 1440.9C1045.8 1449.4 1047.5 1458.0 1050.0 1464.8C1052.5 1471.6 1056.5 1476.7 1060.2 1481.8C1063.9 1486.9 1068.8 1491.0 1072.2 1495.5C1075.6 1500.0 1078.4 1503.4 1080.7 1509.1C1083.0 1514.8 1085.0 1526.1 1085.8 1529.5"/><path d="M935.8 1420.5C936.4 1423.9 938.1 1433.0 939.2 1440.9C940.3 1448.9 941.8 1459.1 942.6 1468.2C943.5 1477.3 944.3 1486.4 944.3 1495.5C944.3 1504.6 943.7 1514.2 942.6 1522.7C941.5 1531.2 938.4 1542.6 937.5 1546.6"/><path d="M1155.1 1660.8C1155.4 1664.5 1156.6 1675.3 1156.8 1683.0C1157.0 1690.7 1156.7 1699.4 1156.1 1706.8C1155.5 1714.2 1154.7 1721.0 1153.4 1727.3C1152.1 1733.5 1150.6 1738.6 1148.3 1744.3C1146.0 1750.0 1141.2 1758.6 1139.8 1761.4"/></g>
<use href="#blue" fill="none" stroke="#54809f" stroke-width="43.0" stroke-linejoin="round" clip-path="url(#c_blue)"/>
<path d="M713.8 1420.0L713.8 1765.0" fill="none" stroke="#54809f" stroke-width="24.5" clip-path="url(#c_blue)"/>
<defs><path id="green" d="M705.3 458.4C702.8 453.1 695.3 435.7 690.0 426.7C684.7 417.7 679.7 411.0 673.6 404.5C667.5 398.0 660.6 392.3 653.2 387.5C645.8 382.7 637.8 378.9 629.3 375.6C620.8 372.3 611.6 369.4 602.0 367.7C592.4 366.0 581.0 365.1 571.4 365.3C561.8 365.5 553.2 367.1 544.1 368.8C535.0 370.5 525.9 373.3 516.8 375.6C507.7 377.9 498.6 380.1 489.5 382.4C480.4 384.7 471.4 387.2 462.3 389.2C453.2 391.2 444.1 392.3 435.0 394.3C425.9 396.3 416.8 398.2 407.7 401.1C398.6 404.0 389.6 407.4 380.5 411.4C371.4 415.4 361.7 420.5 353.2 425.0C344.7 429.5 336.7 433.5 329.3 438.6C321.9 443.7 315.1 449.7 308.9 455.7C302.6 461.7 296.9 468.1 291.8 474.4C286.7 480.6 283.3 486.7 278.2 493.2C273.1 499.7 267.4 506.8 261.1 513.6C254.9 520.4 247.5 527.3 240.7 534.1C233.9 540.9 227.0 547.7 220.2 554.5C213.4 561.3 206.1 567.9 199.8 575.0C193.6 582.1 187.8 589.8 182.7 597.2C177.6 604.6 173.1 611.6 169.1 619.3C165.1 627.0 162.0 635.2 158.9 643.2C155.8 651.2 153.2 659.6 150.3 667.0C147.5 674.4 145.2 681.2 141.8 687.5C138.4 693.8 134.2 698.8 129.9 704.5C125.6 710.2 119.9 715.9 116.2 721.6C112.5 727.3 109.8 732.4 107.7 738.6C105.6 744.9 104.4 751.7 103.6 759.1C102.8 766.5 102.6 775.6 102.6 783.0C102.6 790.4 103.9 797.7 103.6 803.4C103.3 809.1 103.9 809.6 100.9 817.0C97.9 824.4 90.0 837.5 85.6 847.7C81.2 857.9 76.5 869.7 74.3 878.4C72.1 887.1 72.4 893.7 72.2 900.0C72.0 906.3 72.5 910.8 73.0 916.2C73.5 921.6 74.3 926.5 75.4 932.5C76.5 938.5 77.7 945.5 79.5 952.0C81.3 958.5 83.6 964.9 86.0 971.4C88.4 977.9 91.1 984.4 94.1 990.9C97.1 997.4 100.3 1004.2 103.8 1010.4C107.3 1016.6 111.1 1022.5 115.2 1028.2C119.3 1033.9 123.6 1039.3 128.2 1044.5C132.8 1049.7 137.9 1054.5 142.8 1059.1C147.7 1063.7 152.3 1068.0 157.4 1072.1C162.5 1076.1 168.2 1079.9 173.6 1083.4C179.0 1086.9 184.5 1090.0 189.9 1093.2C195.3 1096.5 200.7 1099.7 206.1 1102.9C211.5 1106.2 216.9 1109.5 222.3 1112.7C227.7 1115.9 234.0 1119.0 238.6 1122.0C243.2 1125.0 245.4 1127.6 250.0 1131.0C254.6 1134.4 260.8 1138.7 266.2 1142.2C271.6 1145.7 277.1 1148.5 282.5 1152.0C287.9 1155.5 293.3 1158.8 298.7 1163.3C304.1 1167.8 309.5 1173.4 314.9 1179.0C320.3 1184.6 325.8 1191.3 331.2 1197.0C336.6 1202.7 342.0 1208.0 347.4 1213.0C352.8 1218.0 358.2 1222.8 363.6 1227.0C369.0 1231.2 374.5 1234.8 379.9 1238.0C385.3 1241.2 390.7 1243.3 396.1 1246.0C401.5 1248.7 406.9 1251.5 412.3 1254.0C417.7 1256.5 423.2 1258.7 428.6 1261.0C434.0 1263.3 439.4 1265.5 444.8 1268.0C450.2 1270.5 455.6 1273.3 461.0 1276.0C466.4 1278.7 471.9 1281.2 477.3 1284.0C482.7 1286.8 488.1 1289.7 493.5 1292.6C498.9 1295.5 501.0 1295.0 509.7 1301.5C518.4 1308.0 533.9 1322.8 545.5 1331.8C557.1 1340.8 568.1 1347.8 579.5 1355.7C590.9 1363.7 602.2 1371.5 613.6 1379.5C625.0 1387.5 636.3 1396.0 647.7 1403.4C659.1 1410.8 672.7 1418.5 681.8 1423.9C690.9 1429.3 697.1 1432.8 702.3 1435.8C707.5 1438.8 711.4 1440.9 713.2 1441.9C715.2 1440.0 722.8 1435.4 725.5 1430.7C728.2 1426.0 727.1 1419.8 729.5 1413.6C731.9 1407.3 735.2 1400.6 739.8 1393.2C744.3 1385.8 750.5 1377.2 756.8 1369.3C763.0 1361.3 769.9 1353.5 777.3 1345.5C784.7 1337.5 793.1 1329.0 801.1 1321.6C809.1 1314.2 816.5 1307.3 825.0 1301.1C833.5 1294.8 842.1 1289.2 852.3 1284.1C862.5 1279.0 875.0 1273.9 886.4 1270.5C897.8 1267.1 909.1 1265.6 920.5 1263.6C931.9 1261.6 943.1 1260.8 954.5 1258.5C965.9 1256.2 979.6 1252.7 988.6 1250.0C997.6 1247.3 1002.7 1244.9 1008.7 1242.2C1014.8 1239.5 1019.5 1237.1 1024.9 1234.1C1030.3 1231.1 1035.8 1227.8 1041.2 1224.3C1046.6 1220.8 1052.5 1216.8 1057.4 1213.0C1062.3 1209.2 1066.6 1205.4 1070.4 1201.6C1074.2 1197.8 1076.8 1194.3 1080.1 1190.2C1083.3 1186.1 1086.7 1181.2 1089.9 1177.2C1093.2 1173.2 1096.3 1169.1 1099.6 1165.9C1102.8 1162.7 1105.6 1160.5 1109.4 1157.8C1113.2 1155.1 1117.4 1152.0 1122.3 1149.6C1127.2 1147.2 1133.2 1145.2 1138.6 1143.2C1144.0 1141.2 1149.4 1139.4 1154.8 1137.5C1160.2 1135.6 1165.6 1133.7 1171.0 1131.8C1176.4 1129.9 1181.6 1128.6 1187.3 1126.1C1193.0 1123.5 1198.3 1121.2 1205.0 1116.5C1211.7 1111.8 1221.0 1103.3 1227.4 1098.1C1233.8 1092.9 1238.2 1089.7 1243.6 1085.1C1249.0 1080.5 1254.8 1075.4 1259.9 1070.5C1265.1 1065.6 1269.6 1061.2 1274.5 1055.8C1279.4 1050.4 1284.5 1044.2 1289.1 1038.0C1293.7 1031.8 1298.0 1025.3 1302.1 1018.5C1306.1 1011.7 1309.9 1005.0 1313.4 997.4C1316.9 989.8 1320.2 981.2 1323.2 973.1C1326.2 965.0 1329.1 956.8 1331.3 948.7C1333.5 940.6 1335.0 932.5 1336.2 924.4C1337.4 916.3 1339.2 909.6 1338.6 900.0C1338.0 890.4 1335.1 875.9 1332.4 867.0C1329.7 858.1 1325.6 853.4 1322.2 846.6C1318.8 839.8 1314.2 833.5 1311.9 826.1C1309.6 818.7 1309.1 810.2 1308.5 802.3C1307.9 794.3 1309.1 786.4 1308.5 778.4C1307.9 770.4 1307.1 761.9 1305.1 754.5C1303.1 747.1 1300.8 741.9 1296.6 734.1C1292.4 726.4 1284.9 716.3 1279.8 708.0C1274.7 699.7 1269.8 692.6 1266.1 684.1C1262.4 675.6 1260.4 665.3 1257.6 656.8C1254.8 648.3 1252.8 641.0 1249.1 633.0C1245.4 625.0 1240.6 617.1 1235.5 609.1C1230.4 601.1 1224.1 592.6 1218.4 585.2C1212.7 577.8 1207.7 571.6 1201.4 564.8C1195.2 558.0 1187.7 551.1 1180.9 544.3C1174.1 537.5 1167.3 530.7 1160.5 523.9C1153.7 517.1 1146.2 510.2 1140.0 503.4C1133.8 496.6 1128.7 489.2 1123.0 483.0C1117.3 476.8 1112.2 471.6 1105.9 465.9C1099.7 460.2 1092.9 454.3 1085.5 448.9C1078.1 443.5 1069.6 438.6 1061.6 433.5C1053.6 428.4 1045.7 422.8 1037.7 418.2C1029.8 413.6 1021.9 409.3 1013.9 406.2C1005.9 403.1 998.5 401.4 990.0 399.4C981.5 397.4 971.8 396.0 962.7 394.3C953.6 392.6 944.6 391.2 935.5 389.2C926.4 387.2 917.3 384.9 908.2 382.4C899.1 379.8 890.0 376.5 880.9 373.9C871.8 371.3 862.7 368.6 853.6 367.0C844.5 365.4 835.5 364.4 826.4 364.3C817.3 364.2 808.2 364.5 799.1 366.4C790.0 368.3 780.3 371.5 771.8 375.6C763.3 379.7 755.4 384.9 748.0 390.9C740.6 396.9 733.2 404.0 727.5 411.4C721.8 418.8 717.6 427.4 713.9 435.2C710.2 443.0 706.7 454.5 705.3 458.4Z"/><clipPath id="c_green"><use href="#green"/></clipPath></defs>
<use href="#green" fill="#4b682d"/>
<g fill="#688543" clip-path="url(#c_green)"><path d="M295.2 510.2C298.1 506.2 306.1 492.1 312.3 486.4C318.6 480.7 323.6 481.8 332.7 476.1C341.8 470.4 355.4 459.7 366.8 452.3C378.2 444.9 389.5 436.9 400.9 431.8C412.3 426.7 422.2 424.7 435.0 421.6C447.8 418.5 470.5 414.5 477.6 413.1C475.6 415.4 471.1 423.0 465.7 426.7C460.3 430.4 452.6 433.2 445.2 435.2C437.8 437.2 428.8 436.6 421.4 438.6C414.0 440.6 407.1 443.2 400.9 447.2C394.6 451.2 389.6 456.8 383.9 462.5C378.2 468.2 372.5 475.5 366.8 481.2C361.1 486.9 356.1 492.1 349.8 496.6C343.6 501.2 336.7 505.4 329.3 508.5C321.9 511.6 311.2 515.0 305.5 515.3C299.8 515.6 296.9 511.0 295.2 510.2Z"/><path d="M482.7 465.9C483.3 470.4 484.1 484.1 486.1 493.2C488.1 502.3 491.9 510.3 494.7 520.5C497.5 530.7 501.5 543.1 503.2 554.5C504.9 565.9 505.5 578.4 504.9 588.6C504.3 598.8 503.5 606.8 499.8 615.9C496.1 625.0 490.7 633.5 482.7 643.2C474.7 652.9 465.6 663.1 452.0 673.9C438.4 684.7 420.8 697.8 400.9 708.0C381.0 718.2 353.1 724.4 332.7 735.2C312.2 746.0 291.8 761.9 278.2 772.7C264.6 783.5 259.4 789.8 250.9 800.0C242.4 810.2 233.0 823.2 227.0 834.0C221.0 844.8 217.9 853.3 215.1 864.7C212.3 876.1 210.8 896.0 210.0 902.2C210.1 899.4 211.3 892.0 210.7 885.2C210.1 878.4 208.0 868.7 206.6 861.3C205.2 853.9 203.5 847.7 202.5 840.9C201.5 834.1 199.8 827.8 200.5 820.4C201.2 813.0 203.3 804.0 206.6 796.6C209.9 789.2 213.9 782.9 220.2 776.1C226.4 769.3 235.6 762.5 244.1 755.7C252.6 748.9 262.3 741.7 271.4 735.2C280.5 728.7 289.5 721.9 298.6 716.5C307.7 711.1 316.2 706.5 325.9 702.8C335.6 699.1 346.4 697.4 356.6 694.3C366.8 691.2 377.1 688.6 387.3 684.1C397.5 679.6 408.9 673.2 418.0 667.0C427.1 660.8 434.4 654.0 441.8 646.6C449.2 639.2 456.3 630.1 462.3 622.7C468.3 615.3 473.4 609.7 477.6 602.3C481.9 594.9 486.1 586.4 487.8 578.4C489.5 570.4 489.5 561.9 487.8 554.5C486.1 547.1 481.6 540.9 477.6 534.1C473.6 527.3 467.4 520.4 464.0 513.6C460.6 506.8 458.1 499.4 457.2 493.2C456.3 486.9 456.3 481.8 458.9 476.1C461.4 470.4 468.5 460.8 472.5 459.1C476.5 457.4 481.0 464.8 482.7 465.9Z"/><path d="M492.3 406.2C497.0 404.8 507.6 401.4 520.2 397.7C532.8 394.0 560.0 386.4 568.0 384.1C566.9 386.9 565.1 395.7 561.1 401.1C557.1 406.5 550.9 411.7 544.1 416.5C537.3 421.3 528.2 425.6 520.2 430.1C512.2 434.7 504.3 439.0 496.4 443.8C488.4 448.6 476.5 456.6 472.5 459.1C474.8 455.7 479.3 445.4 486.1 438.6C492.9 431.8 504.9 424.4 513.4 418.2C521.9 411.9 536.2 403.1 537.3 401.1C538.4 399.1 527.7 405.4 520.2 406.2C512.7 407.0 497.0 406.2 492.3 406.2Z"/><path d="M452.0 498.3C449.2 498.0 445.8 492.9 435.0 496.6C424.2 500.3 399.8 511.4 387.3 520.5C374.8 529.6 369.1 542.6 360.0 551.1C350.9 559.6 342.9 565.9 332.7 571.6C322.5 577.3 310.0 581.2 298.6 585.2C287.2 589.2 274.7 589.8 264.5 595.5C254.3 601.2 245.8 609.1 237.3 619.3C228.8 629.5 219.7 643.7 213.4 656.8C207.2 669.9 203.2 683.5 199.8 697.7C196.4 711.9 194.0 726.1 193.0 742.0C192.0 757.9 193.9 780.7 193.6 793.2C193.3 805.7 190.7 807.4 191.2 817.0C191.7 826.6 194.7 839.7 196.4 851.1C198.1 862.5 200.1 874.4 201.5 885.2C202.9 896.0 203.6 908.8 204.9 915.9C206.2 923.0 208.6 925.8 209.3 927.8C209.7 924.1 211.5 912.7 211.7 905.6C211.9 898.5 211.5 892.6 210.7 885.2C209.8 877.8 208.0 868.7 206.6 861.3C205.2 853.9 203.5 847.7 202.5 840.9C201.5 834.1 199.8 827.8 200.5 820.4C201.2 813.0 205.6 800.6 206.6 796.6C208.4 793.2 215.8 781.2 217.5 776.1C219.2 771.0 216.4 772.7 216.8 765.9C217.2 759.1 218.5 745.4 220.2 735.2C221.9 725.0 224.4 714.1 227.0 704.5C229.6 694.9 232.2 686.4 235.6 677.3C239.0 668.2 243.2 658.5 247.5 650.0C251.8 641.5 256.0 632.9 261.1 626.1C266.2 619.3 271.4 613.9 278.2 609.1C285.0 604.3 293.5 600.1 302.0 597.2C310.5 594.4 320.8 594.3 329.3 592.0C337.8 589.7 346.4 587.5 353.2 583.5C360.0 579.5 365.4 574.2 370.2 568.2C375.0 562.2 377.9 554.5 382.2 547.7C386.5 540.9 390.4 533.3 395.8 527.3C401.2 521.3 408.0 516.2 414.5 511.9C421.0 507.6 428.8 504.0 435.0 501.7C441.2 499.4 449.2 498.9 452.0 498.3Z"/><path d="M528.8 537.5C531.3 531.8 538.1 516.5 544.1 503.4C550.1 490.3 558.2 473.3 564.5 459.1C570.8 444.9 577.3 430.7 581.6 418.2C585.9 405.7 588.7 389.8 590.1 384.1L643.0 397.7C640.7 403.4 635.0 422.1 629.3 431.8C623.6 441.5 616.8 446.6 608.9 455.7C601.0 464.8 590.7 476.8 581.6 486.4C572.5 496.0 563.1 505.1 554.3 513.6C545.5 522.1 533.0 533.5 528.8 537.5Z"/><path d="M707.7 460.8C699.2 461.9 670.2 464.5 656.6 467.6C643.0 470.7 634.4 474.1 625.9 479.5C617.4 484.9 610.0 491.5 605.5 500.0C601.0 508.5 600.3 520.5 598.6 530.7C596.9 540.9 597.5 551.8 595.2 561.4C592.9 571.0 590.7 578.4 585.0 588.6C579.3 598.8 569.1 611.3 561.1 622.7C553.1 634.1 544.1 644.9 537.3 656.8C530.5 668.7 524.5 682.9 520.2 694.3C515.9 705.7 513.1 715.3 511.7 725.0C510.3 734.7 511.7 747.8 511.7 752.3C512.5 753.4 515.4 762.0 516.8 759.1C518.2 756.2 517.9 743.7 520.2 735.2C522.5 726.7 526.5 716.5 530.5 708.0C534.5 699.5 539.0 692.1 544.1 684.1C549.2 676.1 554.9 668.2 561.1 660.2C567.4 652.2 574.8 644.4 581.6 636.4C588.4 628.4 595.8 620.5 602.0 612.5C608.2 604.5 614.8 597.1 619.1 588.6C623.4 580.1 626.5 569.9 627.6 561.4C628.7 552.9 626.8 545.5 625.9 537.5C625.0 529.5 621.9 521.0 622.5 513.6C623.1 506.2 625.3 498.3 629.3 493.2C633.3 488.1 640.1 485.6 646.4 483.0C652.6 480.4 656.6 478.5 666.8 477.8C677.0 477.1 700.9 478.7 707.7 478.9L707.7 460.8Z"/><path d="M610.6 694.3C611.5 699.4 616.0 714.2 615.7 725.0C615.4 735.8 612.3 748.3 608.9 759.1C605.5 769.9 599.8 780.1 595.2 789.8C590.7 799.4 585.6 808.5 581.6 817.0C577.6 825.5 575.3 831.5 571.4 840.9C567.5 850.3 560.6 867.8 558.4 873.2C562.3 870.1 574.3 861.0 581.6 854.5C588.9 848.0 595.8 839.7 602.0 834.0C608.2 828.3 613.4 827.2 619.1 820.4C624.8 813.6 631.0 801.7 636.1 793.2C641.2 784.7 646.4 777.2 649.8 769.3C653.2 761.3 656.0 752.9 656.6 745.5C657.2 738.1 656.1 731.2 653.2 725.0C650.4 718.8 646.6 713.1 639.5 708.0C632.4 702.9 615.4 696.6 610.6 694.3Z"/><path d="M227.0 936.3C229.3 935.4 236.1 934.0 240.7 931.2C245.2 928.4 250.3 924.7 254.3 919.3C258.3 913.9 261.4 906.2 264.5 898.8C267.6 891.4 270.0 884.1 273.1 875.0C276.2 865.9 279.6 854.0 283.3 844.3C287.0 834.6 287.0 826.1 295.2 817.0C303.4 807.9 320.8 796.0 332.7 789.8C344.6 783.5 355.4 781.5 366.8 779.5C378.2 777.5 389.5 778.9 400.9 777.8C412.3 776.7 424.8 775.8 435.0 772.7C445.2 769.6 452.6 762.5 462.3 759.1C472.0 755.7 487.9 753.4 493.0 752.3C489.6 754.6 478.2 760.8 472.5 765.9C466.8 771.0 464.0 777.9 458.9 783.0C453.8 788.1 448.1 793.2 441.8 796.6C435.6 800.0 429.3 802.0 421.4 803.4C413.4 804.8 403.2 804.2 394.1 805.1C385.0 806.0 373.6 807.0 366.8 808.5C360.0 810.0 359.4 811.2 353.2 814.3C346.9 817.4 336.1 821.6 329.3 827.2C322.5 832.8 317.4 839.7 312.3 847.7C307.2 855.7 303.2 865.4 298.6 875.0C294.1 884.6 289.0 895.4 285.0 905.6C281.0 915.8 277.5 926.9 274.8 936.3C272.1 945.7 269.6 957.6 268.6 961.9L227.0 936.3Z"/><path d="M107.7 823.8C109.7 828.9 115.2 846.0 119.7 854.5C124.2 863.0 128.5 868.2 135.0 875.0C141.5 881.8 150.4 888.9 158.9 895.4C167.4 901.9 177.0 908.2 186.1 914.2C195.2 920.2 204.3 925.5 213.4 931.2C222.5 936.9 231.6 942.2 240.7 948.2C249.8 954.2 259.5 960.5 268.0 967.0C276.5 973.5 283.9 980.1 291.8 987.5C299.8 994.9 307.8 1003.3 315.7 1011.3C323.6 1019.2 331.0 1027.8 339.5 1035.2C348.0 1042.6 357.1 1049.6 366.8 1055.6C376.5 1061.6 387.3 1066.5 397.5 1071.0C407.7 1075.5 418.0 1079.2 428.2 1082.9C438.4 1086.6 448.7 1089.7 458.9 1093.1C469.1 1096.5 479.3 1099.7 489.5 1103.4C499.7 1107.1 510.0 1111.0 520.2 1115.3C530.4 1119.5 541.6 1123.5 550.9 1128.9C560.2 1134.3 567.9 1141.2 576.1 1147.7C584.3 1154.2 592.6 1160.8 600.0 1168.2C607.4 1175.6 614.8 1183.5 620.5 1192.0C626.2 1200.5 631.0 1210.2 634.1 1219.3C637.2 1228.4 638.9 1238.1 639.2 1246.6C639.5 1255.1 637.8 1262.5 635.8 1270.5C633.8 1278.5 630.7 1287.4 627.3 1294.3C623.9 1301.2 617.3 1309.0 615.3 1312.0C615.3 1310.2 615.0 1307.4 615.3 1301.1C615.6 1294.8 617.3 1283.6 617.0 1273.9C616.7 1264.2 615.9 1253.4 613.6 1243.2C611.3 1233.0 608.5 1222.7 603.4 1212.5C598.3 1202.3 591.5 1190.9 583.0 1181.8C574.5 1172.7 564.2 1165.4 552.3 1158.0C540.4 1150.6 520.7 1143.8 511.4 1137.5C502.1 1131.2 504.6 1125.0 496.4 1120.4C488.2 1115.9 473.7 1113.6 462.3 1110.2C450.9 1106.8 439.6 1104.0 428.2 1100.0C416.8 1096.0 405.5 1091.4 394.1 1086.3C382.7 1081.2 370.2 1075.5 360.0 1069.3C349.8 1063.0 341.8 1056.8 332.7 1048.8C323.6 1040.8 314.6 1030.6 305.5 1021.5C296.4 1012.4 287.3 1002.8 278.2 994.3C269.1 985.8 260.0 977.8 250.9 970.4C241.8 963.0 233.8 956.8 223.6 950.0C213.4 943.2 200.8 936.9 189.5 929.5C178.2 922.1 165.7 913.6 155.5 905.6C145.3 897.6 135.3 890.3 128.2 881.8C121.1 873.3 116.2 864.2 112.8 854.5C109.4 844.8 108.5 828.9 107.7 823.8Z"/><path d="M387.3 880.1C390.1 882.1 399.8 887.5 404.3 892.0C408.8 896.5 411.1 903.3 414.5 907.3C417.9 911.3 419.7 914.2 424.8 915.9C429.9 917.6 437.0 917.3 445.2 917.6C453.4 917.9 469.4 917.6 474.2 917.6C470.5 919.3 459.7 925.2 452.0 927.8C444.3 930.3 435.3 932.0 428.2 932.9C421.1 933.8 413.1 936.3 409.4 932.9C405.7 929.5 408.3 919.0 406.0 912.5C403.7 906.0 398.9 899.1 395.8 893.7C392.7 888.3 388.7 882.4 387.3 880.1Z"/><path d="M525.3 929.5C530.7 928.4 547.8 924.7 557.7 922.7C567.7 920.7 575.9 920.5 585.0 917.6C594.1 914.8 603.2 910.4 612.3 905.6C621.4 900.8 631.0 894.9 639.5 888.6C648.0 882.4 655.0 875.5 663.4 868.1C671.8 860.7 682.6 850.5 690.0 844.3C697.4 838.0 704.8 832.9 707.7 830.6L707.7 878.4C704.8 880.7 695.7 886.9 690.0 892.0C684.3 897.1 679.2 903.9 673.6 909.0C668.0 914.1 662.3 918.4 656.6 922.7C650.9 927.0 645.8 931.2 639.5 934.6C633.2 938.0 626.5 940.5 619.1 943.1C611.7 945.7 602.6 948.6 595.2 950.0C587.8 951.4 581.6 952.0 574.8 951.7C568.0 951.4 560.5 949.9 554.3 948.2C548.0 946.5 542.1 944.5 537.3 941.4C532.5 938.3 527.3 931.5 525.3 929.5Z"/><path d="M644.7 934.6C643.3 937.7 640.4 945.2 636.1 953.4C631.8 961.6 625.9 974.4 619.1 984.0C612.3 993.6 603.2 1002.8 595.2 1011.3C587.2 1019.8 578.2 1027.2 571.4 1035.2C564.6 1043.2 558.2 1051.0 554.3 1059.0C550.4 1067.0 549.2 1078.9 548.2 1082.9C551.5 1080.9 561.3 1076.7 568.0 1071.0C574.7 1065.3 582.1 1056.5 588.4 1048.8C594.6 1041.1 599.8 1033.0 605.5 1025.0C611.2 1017.0 617.7 1009.1 622.5 1001.1C627.3 993.1 631.0 985.2 634.4 977.2C637.8 969.2 641.3 960.5 643.0 953.4C644.7 946.3 644.4 937.7 644.7 934.6Z"/><path d="M707.7 994.3C704.8 998.3 696.8 1009.0 690.0 1018.1C683.2 1027.2 675.2 1038.0 666.8 1048.8C658.4 1059.6 648.0 1072.1 639.5 1082.9C631.0 1093.7 621.8 1104.5 615.7 1113.6C609.6 1122.7 604.9 1133.5 602.7 1137.5C607.1 1134.1 620.9 1124.4 629.3 1117.0C637.7 1109.6 645.8 1101.0 653.2 1093.1C660.6 1085.1 667.5 1076.7 673.6 1069.3C679.7 1061.9 684.3 1056.2 690.0 1048.8C695.7 1041.4 704.8 1029.0 707.7 1025.0L707.7 994.3Z"/><path d="M99.2 868.1C99.2 873.8 99.0 896.9 99.2 902.2C99.4 907.5 100.1 897.7 100.6 900.0C101.1 902.3 101.1 910.2 102.2 916.2C103.3 922.2 104.9 928.9 107.1 935.7C109.3 942.5 112.2 950.0 115.2 956.8C118.2 963.6 121.4 970.1 124.9 976.3C128.4 982.5 132.2 988.5 136.3 994.2C140.4 999.9 144.7 1005.3 149.3 1010.4C153.9 1015.5 158.8 1020.4 163.9 1025.0C169.0 1029.6 174.4 1033.9 180.1 1038.0C185.8 1042.1 192.1 1045.9 198.0 1049.4C203.9 1052.9 209.6 1055.9 215.8 1059.1C222.0 1062.3 228.8 1065.5 235.3 1068.8C241.8 1072.0 248.3 1075.1 254.8 1078.6C261.3 1082.1 268.3 1086.4 274.3 1090.0C280.3 1093.6 285.2 1096.2 290.6 1100.0C296.0 1103.8 301.4 1108.1 306.8 1113.0C312.2 1117.9 317.6 1123.5 323.0 1129.2C328.4 1134.9 333.9 1141.3 339.3 1147.0C344.7 1152.7 350.1 1158.4 355.5 1163.3C360.9 1168.2 366.4 1172.2 371.8 1176.3C377.2 1180.4 382.6 1184.5 388.0 1187.7C393.4 1191.0 398.8 1193.1 404.2 1195.8C409.6 1198.5 415.1 1201.2 420.5 1203.9C425.9 1206.6 431.3 1209.3 436.7 1212.0C442.1 1214.7 447.5 1217.4 452.9 1220.1C458.3 1222.8 463.8 1225.2 469.2 1228.2C474.6 1231.2 480.0 1234.5 485.4 1238.0C490.8 1241.5 496.2 1245.6 501.6 1249.4C507.0 1253.2 512.5 1256.9 517.9 1260.7C523.3 1264.5 528.8 1268.3 534.1 1272.1C539.5 1275.9 542.4 1278.0 550.0 1283.4C557.6 1288.8 568.9 1296.4 579.5 1304.5C590.1 1312.6 602.2 1322.7 613.6 1331.8C625.0 1340.9 636.3 1350.0 647.7 1359.1C659.1 1368.2 673.0 1379.0 681.8 1386.4C690.6 1393.8 697.5 1400.6 700.6 1403.4L700.0 1460.0L300.0 1330.0L40.0 1120.0L40.0 860.0L99.2 868.1Z"/><path d="M713.9 488.1C717.3 483.8 727.5 469.3 734.3 462.5C741.1 455.7 747.4 451.5 754.8 447.2C762.2 442.9 770.1 439.2 778.6 436.9C787.1 434.6 796.8 433.8 805.9 433.5C815.0 433.2 824.7 433.5 833.2 435.2C841.7 436.9 849.6 440.1 857.0 443.8C864.4 447.5 871.2 452.0 877.5 457.4C883.8 462.8 889.7 469.0 894.5 476.1C899.3 483.2 903.4 491.5 906.5 500.0C909.6 508.5 911.9 520.5 913.3 527.3C914.7 534.1 914.7 538.6 915.0 540.9C913.9 539.2 911.6 536.4 908.2 530.7C904.8 525.0 900.2 514.2 894.5 506.8C888.8 499.4 882.6 491.5 874.1 486.4C865.6 481.3 854.2 477.5 843.4 476.1C832.6 474.7 820.7 475.5 809.3 477.8C797.9 480.1 786.6 484.4 775.2 489.8C763.8 495.2 751.3 502.8 741.1 510.2C730.9 517.6 718.4 530.1 713.9 534.1L713.9 488.1Z"/><path d="M713.9 486.4C713.3 480.7 708.8 463.7 710.5 452.3C712.2 440.9 717.9 427.9 724.1 418.2C730.4 408.5 738.9 400.8 748.0 394.3C757.1 387.8 766.7 382.4 778.6 379.0C790.5 375.6 804.7 373.6 819.5 373.9C834.3 374.2 859.3 379.6 867.3 380.7L869.0 404.5C863.0 404.8 844.3 404.8 833.2 406.2C822.1 407.6 815.0 408.8 802.5 413.1C790.0 417.4 770.1 424.1 758.2 431.8C746.3 439.5 738.3 450.0 730.9 459.1C723.5 468.2 716.7 481.8 713.9 486.4Z"/><path d="M771.8 610.8C772.1 608.2 771.8 601.5 773.5 595.5C775.2 589.5 777.7 581.0 782.0 575.0C786.3 569.0 792.3 563.7 799.1 559.7C805.9 555.7 815.0 552.5 823.0 551.1C831.0 549.7 838.8 550.2 846.8 551.1C854.8 552.0 863.3 553.6 870.7 556.2C878.1 558.8 884.0 562.7 891.1 566.5C898.2 570.3 909.6 577.0 913.3 579.1L913.3 619.3C910.8 616.5 903.4 607.1 898.0 602.3C892.6 597.5 888.3 593.4 880.9 590.3C873.5 587.2 862.7 584.6 853.6 583.5C844.5 582.4 834.9 582.4 826.4 583.5C817.9 584.6 809.3 587.2 802.5 590.3C795.7 593.4 790.6 598.9 785.5 602.3C780.4 605.7 774.1 609.4 771.8 610.8Z"/><path d="M911.6 622.7C912.0 627.2 912.6 638.6 914.3 650.0C916.0 661.4 918.3 679.5 921.8 690.9C925.3 702.3 930.4 709.1 935.5 718.2C940.6 727.3 947.4 737.0 952.5 745.5C957.6 754.0 962.7 761.3 966.1 769.3C969.5 777.2 971.6 785.2 973.0 793.2C974.4 801.2 975.9 809.0 974.7 817.0C973.6 825.0 968.7 832.9 966.1 840.9C963.5 848.9 960.1 857.3 959.3 864.7C958.4 872.1 960.1 880.9 961.0 885.2C961.9 889.5 963.8 889.4 964.4 890.3C967.0 887.4 974.7 879.7 979.8 873.2C984.9 866.7 990.6 858.8 995.1 851.1C999.6 843.4 1004.4 836.3 1007.0 827.2C1009.6 818.1 1010.5 805.1 1010.5 796.6C1010.5 788.1 1009.0 782.4 1007.0 776.1C1005.0 769.9 1002.5 764.2 998.5 759.1C994.5 754.0 989.2 750.0 983.2 745.5C977.2 741.0 969.5 736.9 962.7 731.8C955.9 726.7 948.0 721.6 942.3 714.8C936.6 708.0 932.3 699.4 928.6 690.9C924.9 682.4 922.4 672.7 920.1 663.6C917.8 654.5 916.4 643.2 915.0 636.4C913.6 629.6 912.2 625.0 911.6 622.7Z"/><path d="M858.8 609.1C859.6 614.2 863.9 629.0 863.9 639.8C863.9 650.6 860.2 662.5 858.8 673.9C857.4 685.3 855.9 696.6 855.3 708.0C854.7 719.4 854.4 731.8 855.3 742.0C856.2 752.2 857.9 760.8 860.5 769.3C863.1 777.8 867.3 785.2 870.7 793.2C874.1 801.2 875.8 809.6 880.9 817.0C886.0 824.4 895.7 830.7 901.4 837.5C907.1 844.3 912.2 849.9 915.0 857.9C917.8 865.9 918.4 876.1 918.4 885.2C918.4 894.3 915.6 904.0 915.0 912.5C914.4 921.0 913.3 928.9 915.0 936.3C916.7 943.7 920.7 950.5 925.2 956.8C929.8 963.0 937.8 969.1 942.3 973.8C946.8 978.4 950.8 982.9 952.5 984.7C951.4 985.2 949.7 987.9 945.7 987.5C941.7 987.1 934.9 984.0 928.6 982.3C922.4 980.6 915.6 979.2 908.2 977.2C900.8 975.2 890.8 972.7 884.3 970.4C877.8 968.1 871.5 964.7 869.0 963.6C870.1 962.5 873.0 959.9 875.8 956.8C878.6 953.7 882.9 949.9 886.0 944.8C889.1 939.7 892.5 932.6 894.5 926.1C896.5 919.6 898.0 913.0 898.0 905.6C898.0 898.2 896.8 889.2 894.5 881.8C892.2 874.4 888.8 867.3 884.3 861.3C879.8 855.3 873.0 851.1 867.3 846.0C861.6 840.9 854.8 835.4 850.2 830.6C845.7 825.8 842.0 823.2 840.0 817.0C838.0 810.8 838.9 801.7 838.3 793.2C837.7 784.7 836.9 775.0 836.6 765.9C836.3 756.8 836.5 747.7 836.6 738.6C836.7 729.5 836.7 720.5 837.3 711.4C837.9 702.3 838.7 693.2 840.0 684.1C841.3 675.0 843.1 665.9 845.1 656.8C847.1 647.7 849.6 637.5 851.9 629.5C854.2 621.5 857.6 612.5 858.8 609.1Z"/><path d="M725.8 723.3C727.8 727.6 734.6 740.1 737.7 748.9C740.8 757.7 743.4 767.6 744.5 776.1C745.6 784.6 743.6 793.2 744.5 800.0C745.4 806.8 749.7 811.3 749.7 817.0C749.7 822.7 747.1 827.2 744.5 834.0C741.9 840.8 738.3 850.5 734.3 857.9C730.3 865.3 724.7 866.5 720.7 878.4C716.7 890.3 712.2 921.0 710.5 929.5C713.9 924.4 724.6 908.5 730.9 898.8C737.1 889.1 742.3 880.0 748.0 871.5C753.7 863.0 759.8 855.1 765.0 847.7C770.2 840.3 775.9 834.0 779.3 827.2C782.7 820.4 784.8 813.6 785.5 806.8C786.2 800.0 785.5 793.2 783.8 786.4C782.1 779.6 778.9 772.1 775.2 765.9C771.5 759.6 766.7 754.6 761.6 748.9C756.5 743.2 750.5 736.1 744.5 731.8C738.5 727.5 728.9 724.7 725.8 723.3Z"/><path d="M974.7 414.8C976.4 419.9 982.4 434.7 984.9 445.5C987.4 456.3 989.1 468.1 990.0 479.5C990.9 490.9 990.5 502.2 990.0 513.6C989.5 525.0 988.0 536.3 987.3 547.7C986.6 559.1 985.7 570.4 985.9 581.8C986.1 593.2 986.5 605.7 988.3 615.9C990.1 626.1 992.5 635.2 996.8 643.2C1001.1 651.2 1007.1 657.9 1013.9 663.6C1020.7 669.3 1029.2 673.9 1037.7 677.3C1046.2 680.7 1055.9 681.5 1065.0 684.1C1074.1 686.7 1083.2 688.9 1092.3 692.6C1101.4 696.3 1112.8 702.4 1119.5 706.2C1126.2 710.0 1130.3 714.0 1132.5 715.5C1132.0 714.2 1132.0 712.1 1129.8 708.0C1127.6 703.9 1124.0 696.9 1119.5 690.9C1115.0 684.9 1108.8 677.9 1102.5 672.2C1096.2 666.5 1089.4 661.6 1082.0 656.8C1074.6 652.0 1065.6 648.3 1058.2 643.2C1050.8 638.1 1043.4 632.4 1037.7 626.1C1032.0 619.9 1027.0 613.1 1024.1 605.7C1021.1 598.3 1020.6 590.3 1020.0 581.8C1019.4 573.3 1020.0 563.6 1020.7 554.5C1021.4 545.4 1023.0 536.4 1024.1 527.3C1025.2 518.2 1026.7 509.1 1027.5 500.0C1028.3 490.9 1029.5 481.8 1029.2 472.7C1028.9 463.6 1028.1 455.1 1025.8 445.5C1023.5 435.9 1017.3 419.9 1015.6 414.8L974.7 414.8Z"/><path d="M1097.4 483.0C1102.2 489.2 1116.8 508.0 1126.4 520.5C1136.1 533.0 1149.0 545.5 1155.3 558.0C1161.5 570.5 1161.9 583.6 1163.9 595.5C1165.9 607.4 1167.6 617.6 1167.3 629.5C1167.0 641.4 1163.0 660.8 1162.2 667.0C1161.0 663.6 1157.9 654.0 1155.3 646.6C1152.7 639.2 1150.5 631.2 1146.8 622.7C1143.1 614.2 1137.8 604.6 1133.2 595.5C1128.7 586.4 1123.8 576.7 1119.5 568.2C1115.2 559.7 1111.0 552.2 1107.6 544.3C1104.2 536.3 1101.1 527.9 1099.1 520.5C1097.1 513.1 1096.0 506.2 1095.7 500.0C1095.4 493.8 1097.1 485.8 1097.4 483.0Z"/><path d="M1244.0 655.1C1246.0 664.9 1257.2 701.6 1255.7 713.6C1254.2 725.6 1242.6 721.0 1235.2 727.3C1227.8 733.5 1218.8 742.0 1211.4 751.1C1204.0 760.2 1196.6 771.6 1190.9 781.8C1185.2 792.0 1181.8 803.4 1177.3 812.5C1172.8 821.6 1169.3 830.1 1163.6 836.4C1157.9 842.6 1151.2 847.2 1143.2 850.0C1135.2 852.8 1125.6 852.8 1115.9 853.4C1106.2 854.0 1094.9 852.3 1085.2 853.4C1075.5 854.5 1066.5 857.4 1058.0 860.2C1049.5 863.1 1040.9 866.5 1034.1 870.5C1027.3 874.5 1019.9 881.8 1017.0 884.1C1018.1 881.2 1019.9 872.7 1023.9 867.0C1027.9 861.3 1034.1 855.1 1040.9 850.0C1047.7 844.9 1056.3 840.1 1064.8 836.4C1073.3 832.7 1083.5 829.8 1092.0 827.8C1100.5 825.8 1109.4 825.4 1115.9 824.4C1122.4 823.4 1128.1 826.2 1131.2 822.0C1134.3 817.8 1132.7 806.7 1134.7 798.9C1136.7 791.1 1139.5 783.0 1143.2 775.0C1146.9 767.0 1151.7 758.8 1156.8 751.1C1161.9 743.4 1168.2 735.8 1173.9 729.0C1179.6 722.2 1187.5 715.1 1190.9 710.2C1194.3 705.3 1190.5 704.6 1194.5 699.4C1198.5 694.2 1206.8 686.4 1215.0 679.0C1223.2 671.6 1239.2 659.1 1244.0 655.1Z"/><path d="M1289.8 751.1C1284.7 755.6 1268.2 769.3 1259.1 778.4C1250.0 787.5 1242.6 796.0 1235.2 805.7C1227.8 815.4 1221.6 826.2 1214.8 836.4C1208.0 846.6 1201.1 856.8 1194.3 867.0C1187.5 877.2 1181.3 888.6 1173.9 897.7C1166.5 906.8 1158.5 915.9 1150.0 921.6C1141.5 927.3 1132.4 930.7 1122.7 931.8C1113.0 932.9 1102.2 929.8 1092.0 928.4C1081.8 927.0 1071.6 923.6 1061.4 923.3C1051.2 923.0 1041.0 924.1 1030.7 926.7C1020.5 929.3 1007.2 935.4 999.9 938.7C992.5 942.0 992.2 941.8 986.6 946.5C981.0 951.2 971.5 960.9 966.1 967.0C960.7 973.1 956.2 980.7 954.2 983.4C957.3 982.1 965.9 978.2 973.0 975.5C980.1 972.8 988.3 969.3 996.8 967.0C1005.3 964.7 1015.0 963.0 1024.1 961.9C1033.2 960.8 1042.3 959.9 1051.4 960.2C1060.5 960.5 1070.1 961.9 1078.6 963.6C1087.1 965.3 1098.5 969.2 1102.5 970.4C1106.5 971.6 1098.4 969.9 1102.3 971.0C1106.2 972.1 1119.3 975.9 1126.1 976.8C1132.9 977.6 1137.8 977.9 1143.2 976.1C1148.6 974.3 1154.0 970.4 1158.5 965.9C1163.0 961.4 1166.2 955.1 1170.5 948.9C1174.8 942.6 1179.0 935.8 1184.1 928.4C1189.2 921.0 1194.8 912.2 1201.1 904.5C1207.3 896.8 1214.2 889.5 1221.6 882.4C1229.0 875.3 1237.5 867.9 1245.5 861.9C1253.5 855.9 1259.6 851.7 1269.3 846.6C1279.0 841.5 1297.7 833.8 1303.4 831.2L1289.8 751.1Z"/><path d="M1294.9 843.2C1295.8 847.8 1298.0 861.4 1300.0 870.5C1302.0 879.6 1306.0 887.5 1306.8 897.7C1307.6 907.9 1306.8 920.4 1305.1 931.8C1303.4 943.2 1300.9 954.5 1296.6 965.9C1292.3 977.3 1286.3 989.2 1279.5 1000.0C1272.7 1010.8 1264.2 1021.0 1255.7 1030.7C1247.2 1040.4 1238.1 1049.5 1228.4 1058.0C1218.7 1066.5 1208.5 1073.8 1197.7 1081.8C1186.9 1089.8 1171.5 1099.5 1163.6 1105.7C1155.6 1112.0 1152.3 1117.0 1150.0 1119.3L1190.9 1109.1L1272.7 1058.0L1340.9 972.7L1347.7 890.9L1323.9 836.4L1294.9 843.2Z"/><path d="M949.1 1050.5C954.2 1050.8 969.0 1051.4 979.8 1052.2C990.6 1053.0 1002.5 1054.8 1013.9 1055.6C1025.3 1056.4 1036.7 1056.3 1048.0 1057.3C1059.3 1058.3 1071.8 1059.5 1082.0 1061.8C1092.2 1064.1 1101.3 1066.9 1109.3 1071.0C1117.3 1075.1 1124.1 1080.9 1129.8 1086.3C1135.5 1091.7 1140.0 1097.7 1143.4 1103.4C1146.8 1109.1 1154.8 1113.6 1150.2 1120.4C1145.7 1127.2 1121.8 1140.3 1116.1 1144.3C1114.7 1141.5 1110.4 1132.9 1107.6 1127.2C1104.8 1121.5 1102.8 1115.3 1099.1 1110.2C1095.4 1105.1 1091.2 1100.8 1085.5 1096.5C1079.8 1092.2 1072.4 1088.0 1065.0 1084.6C1057.6 1081.2 1049.6 1078.4 1041.1 1076.1C1032.6 1073.8 1023.0 1072.7 1013.9 1071.0C1004.8 1069.3 995.1 1067.9 986.6 1065.9C978.1 1063.9 969.0 1061.6 962.7 1059.0C956.5 1056.4 951.4 1051.9 949.1 1050.5Z"/><path d="M950.8 1030.1C947.1 1032.1 936.8 1037.2 928.6 1042.0C920.4 1046.8 910.5 1052.8 901.4 1059.0C892.3 1065.2 883.2 1072.1 874.1 1079.5C865.0 1086.9 855.3 1094.9 846.8 1103.4C838.3 1111.9 830.4 1120.9 823.0 1130.6C815.6 1140.2 808.8 1151.1 802.5 1161.3C796.2 1171.5 790.6 1181.2 785.5 1192.0C780.4 1202.8 775.5 1215.3 771.8 1226.1C768.1 1236.9 764.3 1249.7 763.3 1256.8C762.3 1263.9 765.3 1266.7 765.7 1268.7C767.9 1264.4 774.2 1251.9 778.6 1243.1C783.0 1234.3 787.2 1225.6 792.3 1215.9C797.4 1206.2 803.6 1194.9 809.3 1185.2C815.0 1175.5 820.7 1166.4 826.4 1157.9C832.1 1149.4 837.1 1142.0 843.4 1134.0C849.6 1126.0 857.1 1117.6 863.9 1110.2C870.7 1102.8 876.9 1096.0 884.3 1089.7C891.7 1083.5 900.8 1078.1 908.2 1072.7C915.6 1067.3 922.9 1061.8 928.6 1057.3C934.3 1052.8 938.6 1049.9 942.3 1045.4C946.0 1040.9 949.4 1032.6 950.8 1030.1Z"/><path d="M845.1 924.4C843.7 928.1 841.4 940.0 836.6 946.5C831.8 953.0 822.9 957.9 816.1 963.6C809.3 969.3 802.0 974.4 795.7 980.6C789.5 986.9 783.2 993.1 778.6 1001.1C774.0 1009.1 771.8 1018.2 768.4 1028.4C765.0 1038.6 761.9 1050.6 758.2 1062.5C754.5 1074.4 750.2 1089.2 746.2 1100.0C742.2 1110.8 738.3 1119.8 734.3 1127.2C730.3 1134.6 724.4 1141.5 722.4 1144.3L713.9 1089.7C716.7 1084.0 726.6 1065.2 730.9 1055.6C735.1 1045.9 736.5 1039.8 739.4 1031.8C742.2 1023.8 744.9 1015.3 748.0 1007.9C751.1 1000.5 754.2 993.8 758.2 987.5C762.2 981.2 766.7 975.5 771.8 970.4C776.9 965.3 782.6 961.1 788.9 956.8C795.1 952.5 802.5 948.8 809.3 944.8C816.1 940.8 823.8 936.3 829.8 932.9C835.8 929.5 842.5 925.8 845.1 924.4Z"/><path d="M726.1 1345.5C730.1 1339.8 741.5 1321.6 750.0 1311.4C758.5 1301.2 767.1 1292.6 777.3 1284.1C787.5 1275.6 798.9 1267.0 811.4 1260.2C823.9 1253.4 837.0 1247.7 852.3 1243.2C867.6 1238.7 886.4 1235.8 903.4 1233.0C920.4 1230.2 937.8 1230.1 954.5 1226.1C971.2 1222.1 990.3 1215.0 1003.6 1209.0C1016.9 1203.0 1024.6 1197.1 1034.3 1190.3C1044.0 1183.5 1052.5 1174.6 1061.6 1168.1C1070.7 1161.6 1084.4 1153.9 1088.9 1151.1L1109.3 1192.0L988.6 1277.3L852.3 1304.5L750.0 1406.8L726.1 1345.5Z"/></g>
<g fill="none" stroke="#2f461b" stroke-width="9.7" stroke-linecap="round" stroke-linejoin="round" clip-path="url(#c_green)"><path d="M278.2 518.8C282.8 518.2 297.0 517.0 305.5 515.3C314.0 513.6 321.9 511.6 329.3 508.5C336.7 505.4 343.6 501.2 349.8 496.6C356.1 492.1 361.1 486.9 366.8 481.2C372.5 475.5 378.2 468.2 383.9 462.5C389.6 456.8 394.6 451.2 400.9 447.2C407.1 443.2 414.0 440.6 421.4 438.6C428.8 436.6 437.8 437.2 445.2 435.2C452.6 433.2 459.4 430.4 465.7 426.7C471.9 423.0 477.6 417.4 482.7 413.1C487.8 408.8 494.1 403.1 496.4 401.1"/><path d="M576.5 380.7C573.9 384.1 566.5 395.1 561.1 401.1C555.7 407.1 550.9 411.7 544.1 416.5C537.3 421.3 528.2 425.6 520.2 430.1C512.2 434.7 504.3 439.0 496.4 443.8C488.4 448.6 478.8 453.7 472.5 459.1C466.2 464.5 461.4 470.4 458.9 476.1C456.3 481.8 456.3 486.9 457.2 493.2C458.1 499.4 460.6 506.8 464.0 513.6C467.4 520.4 473.6 527.3 477.6 534.1C481.6 540.9 486.1 547.1 487.8 554.5C489.5 561.9 489.5 570.4 487.8 578.4C486.1 586.4 481.9 594.9 477.6 602.3C473.4 609.7 468.3 615.3 462.3 622.7C456.3 630.1 449.2 639.2 441.8 646.6C434.4 654.0 427.1 660.8 418.0 667.0C408.9 673.2 397.5 679.6 387.3 684.1C377.1 688.6 366.8 691.2 356.6 694.3C346.4 697.4 335.6 699.1 325.9 702.8C316.2 706.5 307.7 711.1 298.6 716.5C289.5 721.9 280.5 728.7 271.4 735.2C262.3 741.7 252.6 748.9 244.1 755.7C235.6 762.5 226.4 769.3 220.2 776.1C213.9 782.9 209.9 789.2 206.6 796.6C203.3 804.0 201.2 813.0 200.5 820.4C199.8 827.8 201.5 834.1 202.5 840.9C203.5 847.7 205.2 853.9 206.6 861.3C208.0 868.7 209.8 877.8 210.7 885.2C211.5 892.6 211.9 898.5 211.7 905.6C211.5 912.7 209.7 924.1 209.3 927.8"/><path d="M457.2 496.6C453.5 497.5 442.1 499.1 435.0 501.7C427.9 504.2 421.0 507.6 414.5 511.9C408.0 516.2 401.2 521.3 395.8 527.3C390.4 533.3 386.5 540.9 382.2 547.7C377.9 554.5 375.0 562.2 370.2 568.2C365.4 574.2 360.0 579.5 353.2 583.5C346.4 587.5 337.8 589.7 329.3 592.0C320.8 594.3 310.5 594.4 302.0 597.2C293.5 600.1 285.0 604.3 278.2 609.1C271.4 613.9 266.2 619.3 261.1 626.1C256.0 632.9 251.8 641.5 247.5 650.0C243.2 658.5 239.0 668.2 235.6 677.3C232.2 686.4 229.6 694.9 227.0 704.5C224.4 714.1 221.9 725.0 220.2 735.2C218.5 745.4 217.2 759.1 216.8 765.9C216.4 772.7 217.4 774.4 217.5 776.1"/><path d="M527.0 540.9C531.5 536.4 545.2 522.7 554.3 513.6C563.4 504.5 572.5 496.0 581.6 486.4C590.7 476.8 601.0 464.8 608.9 455.7C616.8 446.6 622.5 440.6 629.3 431.8C636.1 423.0 646.4 407.6 649.8 402.8"/><path d="M707.7 478.9C700.9 478.7 677.0 477.1 666.8 477.8C656.6 478.5 652.6 480.4 646.4 483.0C640.1 485.6 633.3 488.1 629.3 493.2C625.3 498.3 623.1 506.2 622.5 513.6C621.9 521.0 625.0 529.5 625.9 537.5C626.8 545.5 628.7 552.9 627.6 561.4C626.5 569.9 623.4 580.1 619.1 588.6C614.8 597.1 608.2 604.5 602.0 612.5C595.8 620.5 588.4 628.4 581.6 636.4C574.8 644.4 567.4 652.2 561.1 660.2C554.9 668.2 549.2 676.1 544.1 684.1C539.0 692.1 534.5 699.5 530.5 708.0C526.5 716.5 522.5 726.7 520.2 735.2C517.9 743.7 517.4 752.0 516.8 759.1C516.2 766.2 516.8 774.7 516.8 777.8"/><path d="M598.6 680.7C602.0 682.4 612.3 686.4 619.1 690.9C625.9 695.4 633.8 702.3 639.5 708.0C645.2 713.7 650.4 718.8 653.2 725.0C656.1 731.2 657.2 738.1 656.6 745.5C656.0 752.9 653.2 761.3 649.8 769.3C646.4 777.2 641.2 784.7 636.1 793.2C631.0 801.7 624.8 813.6 619.1 820.4C613.4 827.2 608.2 828.3 602.0 834.0C595.8 839.7 589.0 847.4 581.6 854.5C574.2 861.6 561.7 873.0 557.7 876.7"/><path d="M654.9 723.3C658.0 721.0 664.8 716.5 673.6 709.7C682.4 702.9 702.0 687.0 707.7 682.4"/><path d="M268.6 961.9C269.6 957.6 272.1 945.7 274.8 936.3C277.5 926.9 281.0 915.8 285.0 905.6C289.0 895.4 294.1 884.6 298.6 875.0C303.2 865.4 307.2 855.7 312.3 847.7C317.4 839.7 322.5 832.8 329.3 827.2C336.1 821.6 346.9 817.4 353.2 814.3C359.4 811.2 360.0 810.0 366.8 808.5C373.6 807.0 385.0 806.0 394.1 805.1C403.2 804.2 413.4 804.8 421.4 803.4C429.3 802.0 435.6 800.0 441.8 796.6C448.1 793.2 453.8 788.1 458.9 783.0C464.0 777.9 468.0 770.4 472.5 765.9C477.0 761.4 481.0 758.0 486.1 755.7C491.2 753.4 498.4 752.0 503.2 752.3C508.0 752.6 513.1 756.5 515.1 757.4"/><path d="M107.7 823.8C109.7 828.9 115.2 846.0 119.7 854.5C124.2 863.0 128.5 868.2 135.0 875.0C141.5 881.8 150.4 888.9 158.9 895.4C167.4 901.9 177.0 908.2 186.1 914.2C195.2 920.2 204.3 925.5 213.4 931.2C222.5 936.9 231.6 942.2 240.7 948.2C249.8 954.2 259.5 960.5 268.0 967.0C276.5 973.5 283.9 980.1 291.8 987.5C299.8 994.9 307.8 1003.3 315.7 1011.3C323.6 1019.2 331.0 1027.8 339.5 1035.2C348.0 1042.6 357.1 1049.6 366.8 1055.6C376.5 1061.6 387.3 1066.5 397.5 1071.0C407.7 1075.5 418.0 1079.2 428.2 1082.9C438.4 1086.6 448.7 1089.7 458.9 1093.1C469.1 1096.5 479.3 1099.7 489.5 1103.4C499.7 1107.1 510.0 1111.0 520.2 1115.3C530.4 1119.5 541.6 1123.5 550.9 1128.9C560.2 1134.3 567.9 1141.2 576.1 1147.7C584.3 1154.2 592.6 1160.8 600.0 1168.2C607.4 1175.6 614.8 1183.5 620.5 1192.0C626.2 1200.5 631.0 1210.2 634.1 1219.3C637.2 1228.4 638.9 1238.1 639.2 1246.6C639.5 1255.1 637.8 1262.5 635.8 1270.5C633.8 1278.5 630.7 1287.4 627.3 1294.3C623.9 1301.2 617.3 1309.0 615.3 1312.0"/><path d="M383.9 881.8C385.9 884.1 392.4 890.3 395.8 895.4C399.2 900.5 402.3 906.2 404.3 912.5C406.3 918.8 407.4 926.1 407.7 932.9C408.0 939.7 407.7 946.6 406.0 953.4C404.3 960.2 400.6 968.1 397.5 973.8C394.4 979.5 390.7 983.8 387.3 987.5C383.9 991.2 378.7 994.6 377.0 996.0"/><path d="M407.7 934.6C411.1 934.6 420.8 935.5 428.2 934.6C435.6 933.8 444.3 932.0 452.0 929.5C459.7 927.0 470.5 921.0 474.2 919.3"/><path d="M523.6 932.9C525.9 934.3 532.2 938.8 537.3 941.4C542.4 944.0 548.0 946.5 554.3 948.2C560.5 949.9 568.0 951.4 574.8 951.7C581.6 952.0 587.8 951.4 595.2 950.0C602.6 948.6 611.7 945.7 619.1 943.1C626.5 940.5 633.2 938.0 639.5 934.6C645.8 931.2 650.9 927.0 656.6 922.7C662.3 918.4 668.0 914.1 673.6 909.0C679.2 903.9 684.3 897.7 690.0 892.0C695.7 886.3 704.8 877.8 707.7 875.0"/><path d="M646.4 931.2C645.8 934.9 645.0 945.7 643.0 953.4C641.0 961.1 637.8 969.2 634.4 977.2C631.0 985.2 627.3 993.1 622.5 1001.1C617.7 1009.1 611.2 1017.0 605.5 1025.0C599.8 1033.0 594.6 1041.1 588.4 1048.8C582.1 1056.5 574.2 1064.8 568.0 1071.0C561.8 1077.2 553.8 1083.8 550.9 1086.3"/><path d="M707.7 1026.7C704.8 1030.4 695.7 1041.7 690.0 1048.8C684.3 1055.9 679.7 1061.9 673.6 1069.3C667.5 1076.7 660.6 1085.1 653.2 1093.1C645.8 1101.0 637.5 1109.3 629.3 1117.0C621.1 1124.7 608.0 1135.5 603.8 1139.2"/><path d="M713.9 488.1C717.3 483.8 727.5 469.3 734.3 462.5C741.1 455.7 747.4 451.5 754.8 447.2C762.2 442.9 770.1 439.2 778.6 436.9C787.1 434.6 796.8 433.8 805.9 433.5C815.0 433.2 824.7 433.5 833.2 435.2C841.7 436.9 849.6 440.1 857.0 443.8C864.4 447.5 871.2 452.0 877.5 457.4C883.8 462.8 889.7 469.0 894.5 476.1C899.3 483.2 903.4 491.5 906.5 500.0C909.6 508.5 911.8 518.2 913.3 527.3C914.8 536.4 915.4 545.4 915.7 554.5C916.0 563.6 915.4 572.7 915.0 581.8C914.6 590.9 913.3 600.0 913.3 609.1C913.3 618.2 913.9 627.3 915.0 636.4C916.1 645.5 917.8 654.5 920.1 663.6C922.4 672.7 924.9 682.4 928.6 690.9C932.3 699.4 936.6 708.0 942.3 714.8C948.0 721.6 955.9 726.7 962.7 731.8C969.5 736.9 977.2 741.0 983.2 745.5C989.2 750.0 994.5 754.0 998.5 759.1C1002.5 764.2 1005.0 769.9 1007.0 776.1C1009.0 782.4 1010.5 788.1 1010.5 796.6C1010.5 805.1 1009.6 818.1 1007.0 827.2C1004.4 836.3 999.6 843.4 995.1 851.1C990.6 858.8 984.9 866.7 979.8 873.2C974.7 879.7 967.0 887.4 964.4 890.3"/><path d="M867.3 384.1C867.9 387.5 870.4 398.2 870.7 404.5C871.0 410.8 870.1 416.5 869.0 421.6C867.9 426.7 865.6 431.5 863.9 435.2C862.2 438.9 859.6 442.4 858.8 443.8"/><path d="M770.1 612.5C770.4 609.7 769.8 601.8 771.8 595.5C773.8 589.2 777.5 581.0 782.0 575.0C786.5 569.0 792.3 563.7 799.1 559.7C805.9 555.7 815.0 552.5 823.0 551.1C831.0 549.7 838.8 550.2 846.8 551.1C854.8 552.0 863.3 553.6 870.7 556.2C878.1 558.8 884.0 562.7 891.1 566.5C898.2 570.3 909.6 577.0 913.3 579.1"/><path d="M858.8 609.1C857.6 612.5 854.2 621.5 851.9 629.5C849.6 637.5 847.1 647.7 845.1 656.8C843.1 665.9 841.3 675.0 840.0 684.1C838.7 693.2 837.9 702.3 837.3 711.4C836.7 720.5 836.7 729.5 836.6 738.6C836.5 747.7 836.3 756.8 836.6 765.9C836.9 775.0 837.7 784.7 838.3 793.2C838.9 801.7 838.0 810.8 840.0 817.0C842.0 823.2 845.7 825.8 850.2 830.6C854.8 835.4 861.6 840.9 867.3 846.0C873.0 851.1 879.8 855.3 884.3 861.3C888.8 867.3 892.2 874.4 894.5 881.8C896.8 889.2 898.0 898.2 898.0 905.6C898.0 913.0 896.5 919.6 894.5 926.1C892.5 932.6 889.1 939.7 886.0 944.8C882.9 949.9 878.6 953.7 875.8 956.8C873.0 959.9 870.1 962.5 869.0 963.6C871.5 964.7 877.8 968.1 884.3 970.4C890.8 972.7 900.8 975.2 908.2 977.2C915.6 979.2 922.4 980.6 928.6 982.3C934.9 984.0 940.9 984.9 945.7 987.5C950.5 990.1 955.3 993.2 957.6 997.7C959.9 1002.2 960.1 1009.0 959.3 1014.7C958.4 1020.4 955.3 1026.7 952.5 1031.8C949.7 1036.9 946.3 1041.2 942.3 1045.4C938.3 1049.7 934.3 1052.8 928.6 1057.3C922.9 1061.8 915.6 1067.3 908.2 1072.7C900.8 1078.1 891.7 1083.5 884.3 1089.7C876.9 1096.0 870.7 1102.8 863.9 1110.2C857.1 1117.6 849.6 1126.0 843.4 1134.0C837.1 1142.0 832.1 1149.4 826.4 1157.9C820.7 1166.4 815.0 1175.5 809.3 1185.2C803.6 1194.9 797.4 1206.2 792.3 1215.9C787.2 1225.6 782.9 1234.3 778.6 1243.1C774.3 1251.9 768.7 1264.4 766.7 1268.7"/><path d="M778.6 697.7C781.5 698.6 789.5 701.4 795.7 702.8C802.0 704.2 809.3 705.3 816.1 706.2C822.9 707.1 833.2 707.7 836.6 708.0"/><path d="M729.2 719.9C731.8 721.9 739.1 727.0 744.5 731.8C749.9 736.6 756.5 743.2 761.6 748.9C766.7 754.6 771.5 759.6 775.2 765.9C778.9 772.1 782.1 779.6 783.8 786.4C785.5 793.2 786.2 800.0 785.5 806.8C784.8 813.6 782.7 820.4 779.3 827.2C775.9 834.0 770.2 840.3 765.0 847.7C759.8 855.1 753.7 863.0 748.0 871.5C742.3 880.0 737.1 889.1 730.9 898.8C724.6 908.5 713.9 924.4 710.5 929.5"/><path d="M1013.9 414.8C1015.9 419.9 1023.2 435.9 1025.8 445.5C1028.3 455.1 1028.9 463.6 1029.2 472.7C1029.5 481.8 1028.3 490.9 1027.5 500.0C1026.7 509.1 1025.2 518.2 1024.1 527.3C1023.0 536.4 1021.4 545.4 1020.7 554.5C1020.0 563.6 1019.4 573.3 1020.0 581.8C1020.6 590.3 1021.1 598.3 1024.1 605.7C1027.0 613.1 1032.0 619.9 1037.7 626.1C1043.4 632.4 1050.8 638.1 1058.2 643.2C1065.6 648.3 1074.6 652.0 1082.0 656.8C1089.4 661.6 1096.2 666.5 1102.5 672.2C1108.8 677.9 1115.0 684.9 1119.5 690.9C1124.0 696.9 1127.5 703.7 1129.8 708.0C1132.1 712.3 1132.6 715.1 1133.2 716.5"/><path d="M1095.7 469.3C1095.7 474.4 1095.1 491.5 1095.7 500.0C1096.3 508.5 1097.1 513.1 1099.1 520.5C1101.1 527.9 1104.2 536.3 1107.6 544.3C1111.0 552.2 1115.2 559.7 1119.5 568.2C1123.8 576.7 1128.7 586.4 1133.2 595.5C1137.8 604.6 1143.1 614.2 1146.8 622.7C1150.5 631.2 1153.0 638.6 1155.3 646.6C1157.6 654.6 1159.6 666.5 1160.5 670.5"/><path d="M1244.0 655.1C1239.2 659.1 1223.2 671.6 1215.0 679.0C1206.8 686.4 1198.5 694.2 1194.5 699.4C1190.5 704.6 1194.3 705.3 1190.9 710.2C1187.5 715.1 1179.6 722.2 1173.9 729.0C1168.2 735.8 1161.9 743.4 1156.8 751.1C1151.7 758.8 1146.9 767.0 1143.2 775.0C1139.5 783.0 1136.7 791.1 1134.7 798.9C1132.7 806.7 1131.8 818.1 1131.2 822.0C1128.7 822.4 1122.4 823.4 1115.9 824.4C1109.4 825.4 1100.5 825.8 1092.0 827.8C1083.5 829.8 1073.3 832.7 1064.8 836.4C1056.3 840.1 1047.7 844.9 1040.9 850.0C1034.1 855.1 1028.2 861.3 1023.9 867.0C1019.6 872.7 1016.7 881.2 1015.3 884.1"/><path d="M952.5 984.0C955.9 982.6 965.6 978.3 973.0 975.5C980.4 972.7 988.3 969.3 996.8 967.0C1005.3 964.7 1015.0 963.0 1024.1 961.9C1033.2 960.8 1042.3 959.9 1051.4 960.2C1060.5 960.5 1070.1 961.9 1078.6 963.6C1087.1 965.3 1098.5 969.2 1102.5 970.4C1106.5 971.6 1098.4 969.9 1102.3 971.0C1106.2 972.1 1119.3 975.9 1126.1 976.8C1132.9 977.6 1137.8 977.9 1143.2 976.1C1148.6 974.3 1154.0 970.4 1158.5 965.9C1163.0 961.4 1166.2 955.1 1170.5 948.9C1174.8 942.6 1179.0 935.8 1184.1 928.4C1189.2 921.0 1194.8 912.2 1201.1 904.5C1207.3 896.8 1214.2 889.5 1221.6 882.4C1229.0 875.3 1237.5 867.9 1245.5 861.9C1253.5 855.9 1259.6 851.7 1269.3 846.6C1279.0 841.5 1297.7 833.8 1303.4 831.2"/><path d="M944.0 1052.2C947.1 1053.3 955.6 1056.7 962.7 1059.0C969.8 1061.3 978.1 1063.9 986.6 1065.9C995.1 1067.9 1004.8 1069.3 1013.9 1071.0C1023.0 1072.7 1032.6 1073.8 1041.1 1076.1C1049.6 1078.4 1057.6 1081.2 1065.0 1084.6C1072.4 1088.0 1079.8 1092.2 1085.5 1096.5C1091.2 1100.8 1095.4 1105.1 1099.1 1110.2C1102.8 1115.3 1105.3 1121.0 1107.6 1127.2C1109.9 1133.5 1111.8 1144.3 1112.7 1147.7"/><path d="M843.4 921.0C841.1 923.0 835.5 928.9 829.8 932.9C824.1 936.9 816.1 940.8 809.3 944.8C802.5 948.8 795.1 952.5 788.9 956.8C782.6 961.1 776.9 965.3 771.8 970.4C766.7 975.5 762.2 981.2 758.2 987.5C754.2 993.8 751.1 1000.5 748.0 1007.9C744.9 1015.3 742.2 1023.8 739.4 1031.8C736.5 1039.8 735.1 1045.9 730.9 1055.6C726.6 1065.2 716.7 1084.0 713.9 1089.7"/></g>
<use href="#green" fill="none" stroke="#2f461b" stroke-width="42.0" stroke-linejoin="round" clip-path="url(#c_green)"/>
<path d="M705.3 450.0C705.7 511.2 706.8 708.7 707.7 817.0C708.6 925.3 709.9 1022.2 710.8 1100.0C711.6 1177.8 712.4 1230.0 712.8 1284.0C713.2 1338.0 713.1 1400.7 713.2 1424.0" fill="none" stroke="#2f461b" stroke-width="24" stroke-linecap="round" clip-path="url(#c_green)"/>
<text x="-9.0" y="155.8" font-size="208.0" textLength="831.7" lengthAdjust="spacingAndGlyphs">Structure</text>
<text x="865.4" y="155.8" font-size="208.0" textLength="191.5" lengthAdjust="spacingAndGlyphs">of</text>
<text x="1094.8" y="155.8" font-size="208.0" textLength="299.5" lengthAdjust="spacingAndGlyphs">the</text>
<text x="1439.9" y="155.8" font-size="208.0" textLength="459.5" lengthAdjust="spacingAndGlyphs">brain</text>
<text x="1278.0" y="591.7" font-size="67.5" textLength="256.1" lengthAdjust="spacingAndGlyphs">Occipital</text>
<text x="1549.6" y="591.7" font-size="67.5" textLength="145.2" lengthAdjust="spacingAndGlyphs">Lobe</text>
<text x="1486.9" y="1351.6" font-size="72.0" textLength="232.8" lengthAdjust="spacingAndGlyphs">Parietal</text>
<text x="1735.0" y="1351.6" font-size="72.0" textLength="156.1" lengthAdjust="spacingAndGlyphs">Lobe</text>
<text x="1218.9" y="1999.7" font-size="72.0" textLength="219.0" lengthAdjust="spacingAndGlyphs">Frontal</text>
<text x="1453.6" y="1999.7" font-size="72.0" textLength="156.9" lengthAdjust="spacingAndGlyphs">Lobe</text>

</svg>
</body></html>
